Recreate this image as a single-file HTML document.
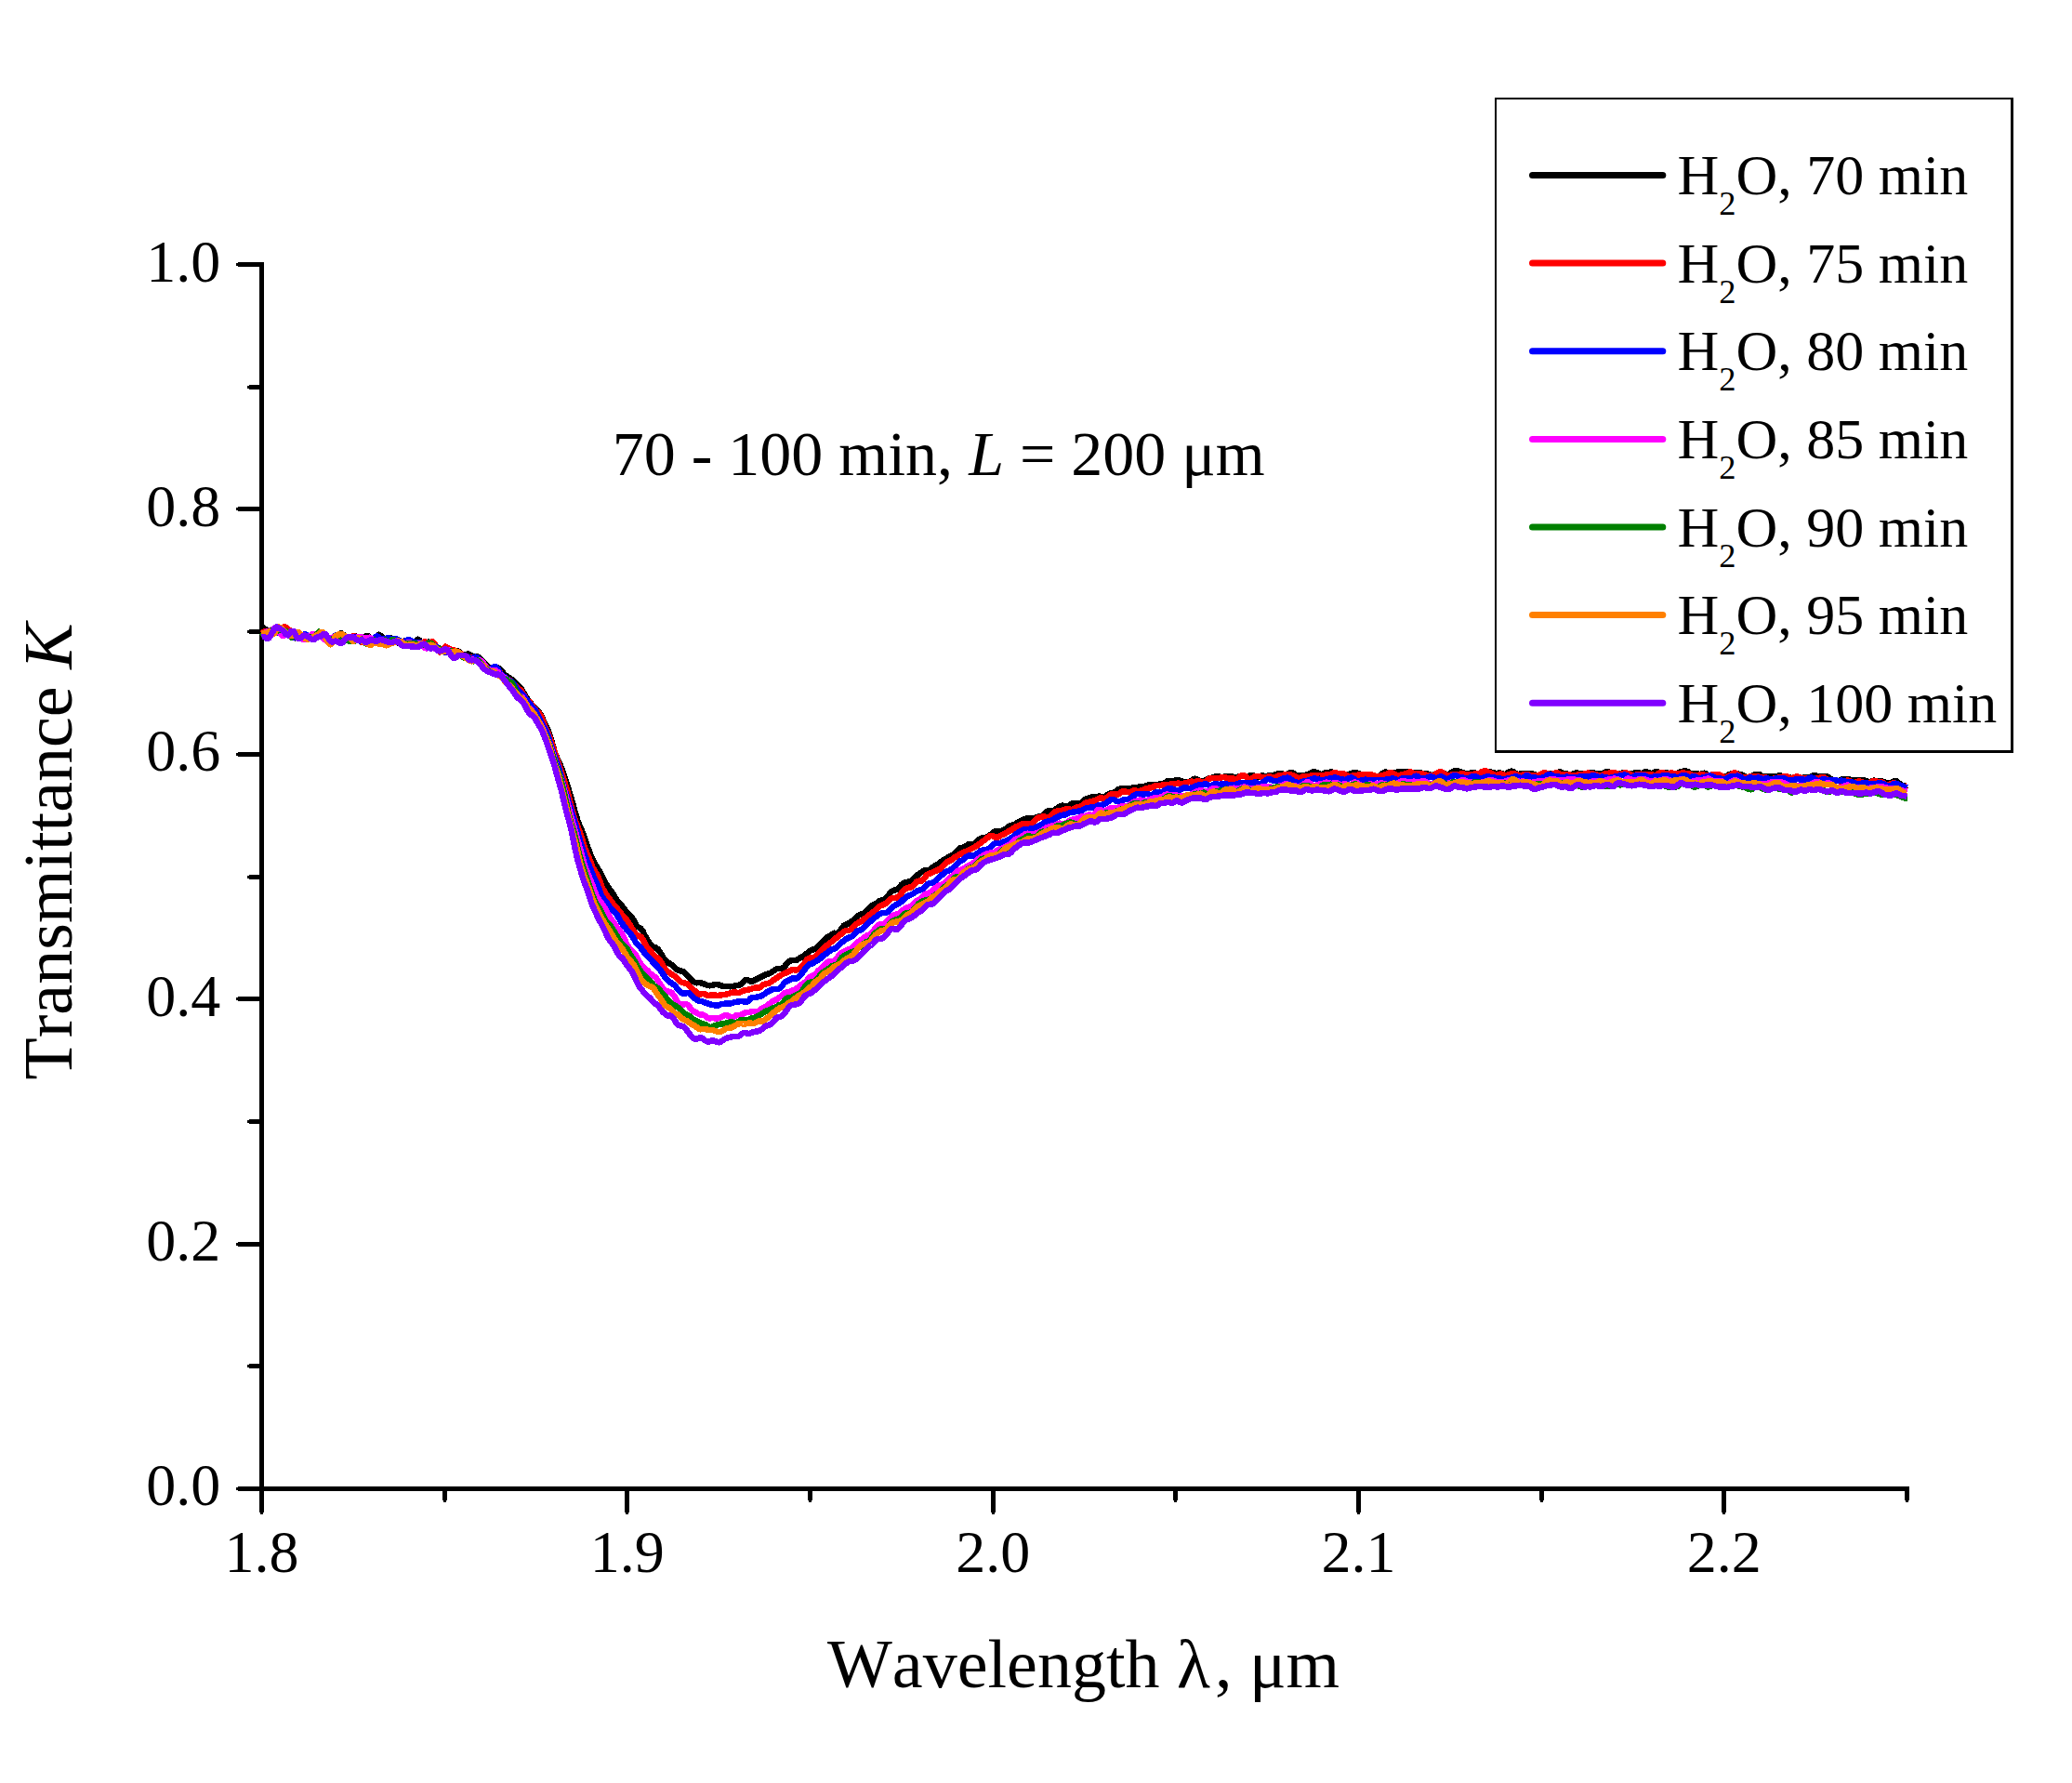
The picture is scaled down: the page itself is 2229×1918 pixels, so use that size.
<!DOCTYPE html>
<html><head><meta charset="utf-8"><title>Transmittance</title>
<style>
html,body{margin:0;padding:0;background:#fff;}
body{width:2229px;height:1918px;overflow:hidden;}
svg{display:block;}
text{font-family:"Liberation Serif",serif;fill:#000;font-kerning:none;font-variant-ligatures:none;}
.tk{font-size:64px;}
.ax{font-size:74px;}
.lg{font-size:62px;}
.an{font-size:68px;}
.i{font-style:italic;}
</style></head><body>
<svg width="2229" height="1918" viewBox="0 0 2229 1918">
<rect width="2229" height="1918" fill="#fff"/>

<path d="M279 282H284V1604H279ZM279 1599H2054V1604H279ZM256 1599H279V1604H256ZM254 1600H256V1603H254ZM268 1467H279V1472H268ZM266 1468H268V1471H266ZM256 1336H279V1341H256ZM254 1337H256V1340H254ZM268 1204H279V1209H268ZM266 1205H268V1208H266ZM256 1072H279V1077H256ZM254 1073H256V1076H254ZM268 941H279V946H268ZM266 942H268V945H266ZM256 809H279V814H256ZM254 810H256V813H254ZM268 677H279V682H268ZM266 678H268V681H266ZM256 545H279V550H256ZM254 546H256V549H254ZM268 414H279V419H268ZM266 415H268V418H266ZM256 282H279V287H256ZM254 283H256V286H254ZM279 1604H284V1627H279ZM280 1627H283V1629H280ZM476 1604H481V1614H476ZM477 1614H480V1616H477ZM672 1604H677V1627H672ZM673 1627H676V1629H673ZM869 1604H874V1614H869ZM870 1614H873V1616H870ZM1066 1604H1071V1627H1066ZM1067 1627H1070V1629H1067ZM1262 1604H1267V1614H1262ZM1263 1614H1266V1616H1263ZM1459 1604H1464V1627H1459ZM1460 1627H1463V1629H1460ZM1656 1604H1661V1614H1656ZM1657 1614H1660V1616H1657ZM1852 1604H1857V1627H1852ZM1853 1627H1856V1629H1853ZM2049 1604H2054V1614H2049ZM2050 1614H2053V1616H2050Z" fill="#000" shape-rendering="crispEdges"/>
<g fill="none" stroke-width="6.5" stroke-linejoin="round" stroke-linecap="butt" shape-rendering="crispEdges">
<path d="M281.5 676.7 L283.5 675.5 L285.5 676.7 L287.5 678.3 L289.5 678.6 L291.5 679.0 L293.5 680.5 L295.5 680.9 L297.5 679.3 L299.5 677.3 L301.5 676.0 L303.5 675.4 L305.5 676.0 L307.5 677.6 L309.5 679.8 L311.5 681.9 L313.5 684.1 L315.5 685.8 L317.5 686.3 L319.5 685.8 L321.5 684.4 L323.5 683.3 L325.5 683.3 L327.5 683.5 L329.5 683.4 L331.5 683.8 L333.5 685.7 L335.5 687.5 L337.5 687.4 L339.5 685.3 L341.5 683.3 L343.5 682.6 L345.5 683.3 L347.5 684.7 L349.5 686.0 L351.5 686.9 L353.5 687.3 L355.5 687.7 L357.5 687.5 L359.5 685.7 L361.5 683.9 L363.5 682.8 L365.5 681.6 L367.5 681.3 L369.5 682.9 L371.5 685.3 L373.5 686.9 L375.5 687.4 L377.5 687.3 L379.5 686.6 L381.5 685.3 L383.5 684.7 L385.5 685.1 L387.5 686.2 L389.5 686.9 L391.5 686.0 L393.5 684.3 L395.5 683.9 L397.5 685.9 L399.5 688.7 L401.5 689.5 L403.5 687.3 L405.5 684.1 L407.5 682.7 L409.5 683.8 L411.5 685.7 L413.5 686.9 L415.5 687.3 L417.5 687.2 L419.5 686.6 L421.5 686.6 L423.5 687.2 L425.5 688.4 L427.5 690.5 L429.5 692.3 L431.5 692.3 L433.5 690.6 L435.5 689.5 L437.5 690.2 L439.5 691.7 L441.5 692.8 L443.5 692.8 L445.5 691.8 L447.5 689.5 L449.5 687.8 L451.5 689.0 L453.5 692.2 L455.5 694.0 L457.5 692.6 L459.5 690.8 L461.5 690.7 L463.5 691.0 L465.5 691.6 L467.5 693.0 L469.5 695.2 L471.5 697.0 L473.5 698.3 L475.5 699.6 L477.5 699.3 L479.5 697.5 L481.5 696.7 L483.5 698.3 L485.5 700.8 L487.5 701.8 L489.5 701.1 L491.5 700.1 L493.5 700.6 L495.5 702.8 L497.5 705.1 L499.5 705.3 L501.5 704.1 L503.5 703.3 L505.5 704.1 L507.5 705.8 L509.5 706.7 L511.5 706.5 L513.5 706.4 L515.5 707.5 L517.5 709.7 L519.5 711.9 L521.5 713.9 L523.5 715.8 L525.5 717.5 L527.5 718.5 L529.5 718.6 L531.5 718.6 L533.5 718.6 L535.5 718.5 L537.5 719.2 L539.5 721.4 L541.5 724.3 L543.5 726.4 L545.5 727.6 L547.5 728.8 L549.5 730.2 L551.5 731.7 L553.5 733.5 L555.5 735.7 L557.5 737.7 L559.5 739.7 L561.5 742.1 L563.5 745.7 L565.5 749.4 L567.5 752.3 L569.5 754.6 L571.5 757.1 L573.5 759.7 L575.5 761.8 L577.5 763.8 L579.5 765.7 L581.5 768.5 L583.5 772.5 L585.5 777.0 L587.5 781.4 L589.5 785.6 L591.5 790.8 L593.5 797.5 L595.5 804.8 L597.5 811.2 L599.5 816.2 L601.5 820.4 L603.5 825.0 L605.5 830.4 L607.5 836.1 L609.5 842.1 L611.5 848.6 L613.5 855.2 L615.5 862.0 L617.5 869.1 L619.5 876.5 L621.5 883.0 L623.5 887.8 L625.5 892.3 L627.5 897.5 L629.5 903.3 L631.5 909.0 L633.5 914.5 L635.5 919.9 L637.5 924.6 L639.5 928.3 L641.5 931.4 L643.5 934.8 L645.5 938.7 L647.5 942.6 L649.5 946.3 L651.5 950.0 L653.5 953.4 L655.5 956.1 L657.5 958.5 L659.5 961.4 L661.5 965.1 L663.5 968.5 L665.5 970.7 L667.5 972.5 L669.5 974.9 L671.5 977.8 L673.5 980.8 L675.5 982.9 L677.5 984.5 L679.5 986.5 L681.5 989.7 L683.5 993.7 L685.5 996.6 L687.5 997.8 L689.5 999.0 L691.5 1001.7 L693.5 1005.8 L695.5 1009.5 L697.5 1012.6 L699.5 1015.3 L701.5 1017.5 L703.5 1018.7 L705.5 1019.4 L707.5 1020.9 L709.5 1023.5 L711.5 1026.8 L713.5 1030.1 L715.5 1032.9 L717.5 1034.9 L719.5 1036.1 L721.5 1037.1 L723.5 1038.7 L725.5 1040.7 L727.5 1042.4 L729.5 1043.6 L731.5 1044.2 L733.5 1044.6 L735.5 1045.6 L737.5 1047.4 L739.5 1049.6 L741.5 1051.6 L743.5 1053.7 L745.5 1055.5 L747.5 1056.8 L749.5 1057.3 L751.5 1057.1 L753.5 1057.3 L755.5 1057.8 L757.5 1058.5 L759.5 1059.4 L761.5 1060.1 L763.5 1060.3 L765.5 1060.1 L767.5 1059.6 L769.5 1059.1 L771.5 1059.0 L773.5 1059.5 L775.5 1060.2 L777.5 1060.7 L779.5 1060.9 L781.5 1060.8 L783.5 1061.1 L785.5 1061.3 L787.5 1061.1 L789.5 1060.7 L791.5 1060.3 L793.5 1060.2 L795.5 1059.7 L797.5 1058.5 L799.5 1056.4 L801.5 1054.3 L803.5 1053.9 L805.5 1054.8 L807.5 1055.7 L809.5 1055.7 L811.5 1054.7 L813.5 1053.5 L815.5 1052.6 L817.5 1051.6 L819.5 1050.5 L821.5 1049.4 L823.5 1048.6 L825.5 1048.0 L827.5 1047.2 L829.5 1046.2 L831.5 1044.8 L833.5 1043.4 L835.5 1042.2 L837.5 1041.8 L839.5 1042.0 L841.5 1041.7 L843.5 1040.2 L845.5 1037.9 L847.5 1035.7 L849.5 1033.9 L851.5 1033.0 L853.5 1033.0 L855.5 1033.2 L857.5 1032.5 L859.5 1031.3 L861.5 1030.1 L863.5 1028.9 L865.5 1027.6 L867.5 1026.0 L869.5 1024.2 L871.5 1022.7 L873.5 1021.8 L875.5 1021.1 L877.5 1020.2 L879.5 1018.7 L881.5 1016.7 L883.5 1014.6 L885.5 1012.4 L887.5 1010.2 L889.5 1008.3 L891.5 1007.5 L893.5 1006.5 L895.5 1004.8 L897.5 1003.7 L899.5 1004.0 L901.5 1004.0 L903.5 1001.8 L905.5 998.5 L907.5 996.0 L909.5 995.0 L911.5 994.2 L913.5 993.0 L915.5 991.7 L917.5 990.5 L919.5 988.7 L921.5 986.4 L923.5 984.8 L925.5 983.9 L927.5 983.2 L929.5 982.2 L931.5 980.9 L933.5 978.7 L935.5 976.2 L937.5 974.3 L939.5 973.4 L941.5 972.7 L943.5 971.3 L945.5 969.6 L947.5 968.7 L949.5 968.5 L951.5 967.9 L953.5 965.9 L955.5 963.3 L957.5 960.9 L959.5 958.9 L961.5 957.8 L963.5 957.3 L965.5 956.6 L967.5 954.6 L969.5 952.1 L971.5 950.3 L973.5 949.5 L975.5 948.9 L977.5 948.4 L979.5 947.9 L981.5 946.8 L983.5 944.9 L985.5 942.8 L987.5 941.0 L989.5 939.6 L991.5 938.1 L993.5 936.8 L995.5 936.3 L997.5 936.4 L999.5 935.9 L1001.5 934.5 L1003.5 932.7 L1005.5 931.6 L1007.5 930.7 L1009.5 929.3 L1011.5 927.6 L1013.5 926.1 L1015.5 925.0 L1017.5 923.8 L1019.5 922.4 L1021.5 921.2 L1023.5 920.3 L1025.5 919.4 L1027.5 917.8 L1029.5 915.4 L1031.5 913.1 L1033.5 912.0 L1035.5 911.8 L1037.5 911.3 L1039.5 909.9 L1041.5 908.5 L1043.5 908.2 L1045.5 908.6 L1047.5 908.3 L1049.5 907.1 L1051.5 905.0 L1053.5 902.9 L1055.5 901.6 L1057.5 901.1 L1059.5 901.0 L1061.5 900.5 L1063.5 899.4 L1065.5 898.0 L1067.5 896.2 L1069.5 894.8 L1071.5 894.2 L1073.5 894.3 L1075.5 894.4 L1077.5 893.9 L1079.5 893.0 L1081.5 891.9 L1083.5 890.3 L1085.5 888.7 L1087.5 887.8 L1089.5 887.5 L1091.5 886.9 L1093.5 885.6 L1095.5 884.2 L1097.5 883.2 L1099.5 882.3 L1101.5 881.3 L1103.5 880.6 L1105.5 880.4 L1107.5 880.4 L1109.5 880.4 L1111.5 880.3 L1113.5 879.7 L1115.5 879.0 L1117.5 878.6 L1119.5 878.3 L1121.5 877.6 L1123.5 875.9 L1125.5 873.7 L1127.5 872.3 L1129.5 872.4 L1131.5 872.8 L1133.5 872.0 L1135.5 870.5 L1137.5 869.1 L1139.5 867.8 L1141.5 866.8 L1143.5 866.7 L1145.5 867.4 L1147.5 867.6 L1149.5 867.1 L1151.5 865.7 L1153.5 864.5 L1155.5 864.0 L1157.5 864.1 L1159.5 864.4 L1161.5 864.2 L1163.5 863.2 L1165.5 861.3 L1167.5 859.7 L1169.5 858.9 L1171.5 858.4 L1173.5 857.6 L1175.5 857.5 L1177.5 857.7 L1179.5 857.3 L1181.5 856.7 L1183.5 856.7 L1185.5 857.1 L1187.5 857.5 L1189.5 856.7 L1191.5 855.0 L1193.5 853.6 L1195.5 853.2 L1197.5 852.9 L1199.5 851.9 L1201.5 850.3 L1203.5 849.1 L1205.5 848.6 L1207.5 848.5 L1209.5 848.2 L1211.5 848.1 L1213.5 848.3 L1215.5 848.2 L1217.5 847.7 L1219.5 847.4 L1221.5 847.2 L1223.5 846.9 L1225.5 846.4 L1227.5 846.0 L1229.5 846.0 L1231.5 845.8 L1233.5 845.2 L1235.5 844.4 L1237.5 843.9 L1239.5 843.9 L1241.5 844.3 L1243.5 844.5 L1245.5 844.1 L1247.5 843.6 L1249.5 843.1 L1251.5 842.8 L1253.5 841.8 L1255.5 840.6 L1257.5 840.4 L1259.5 840.8 L1261.5 840.6 L1263.5 839.7 L1265.5 838.9 L1267.5 839.0 L1269.5 839.6 L1271.5 840.5 L1273.5 841.1 L1275.5 841.1 L1277.5 841.0 L1279.5 840.7 L1281.5 839.8 L1283.5 838.5 L1285.5 837.7 L1287.5 838.2 L1289.5 839.3 L1291.5 839.9 L1293.5 840.0 L1295.5 839.8 L1297.5 839.1 L1299.5 838.1 L1301.5 837.1 L1303.5 836.8 L1305.5 836.4 L1307.5 835.4 L1309.5 835.0 L1311.5 835.4 L1313.5 836.2 L1315.5 836.1 L1317.5 835.6 L1319.5 835.3 L1321.5 835.1 L1323.5 835.0 L1325.5 835.5 L1327.5 836.2 L1329.5 836.3 L1331.5 835.7 L1333.5 835.0 L1335.5 834.8 L1337.5 834.9 L1339.5 835.0 L1341.5 835.0 L1343.5 834.7 L1345.5 834.3 L1347.5 834.2 L1349.5 834.7 L1351.5 835.4 L1353.5 835.6 L1355.5 835.1 L1357.5 834.6 L1359.5 834.7 L1361.5 835.1 L1363.5 834.9 L1365.5 834.2 L1367.5 834.0 L1369.5 834.0 L1371.5 833.6 L1373.5 832.7 L1375.5 832.1 L1377.5 832.0 L1379.5 832.5 L1381.5 833.4 L1383.5 833.6 L1385.5 832.7 L1387.5 831.2 L1389.5 830.9 L1391.5 831.9 L1393.5 833.3 L1395.5 834.3 L1397.5 834.5 L1399.5 834.3 L1401.5 834.1 L1403.5 834.0 L1405.5 833.6 L1407.5 832.8 L1409.5 831.7 L1411.5 830.8 L1413.5 830.4 L1415.5 830.6 L1417.5 831.5 L1419.5 832.5 L1421.5 833.0 L1423.5 832.5 L1425.5 831.5 L1427.5 830.9 L1429.5 830.8 L1431.5 830.7 L1433.5 830.7 L1435.5 831.1 L1437.5 831.7 L1439.5 832.4 L1441.5 833.2 L1443.5 833.9 L1445.5 834.0 L1447.5 833.7 L1449.5 833.3 L1451.5 832.7 L1453.5 832.1 L1455.5 831.5 L1457.5 831.2 L1459.5 831.3 L1461.5 832.0 L1463.5 832.9 L1465.5 833.7 L1467.5 834.2 L1469.5 834.1 L1471.5 833.8 L1473.5 833.4 L1475.5 833.5 L1477.5 834.4 L1479.5 835.6 L1481.5 835.8 L1483.5 834.8 L1485.5 833.4 L1487.5 831.8 L1489.5 830.7 L1491.5 830.7 L1493.5 831.4 L1495.5 831.7 L1497.5 831.3 L1499.5 830.9 L1501.5 830.9 L1503.5 830.6 L1505.5 830.2 L1507.5 830.1 L1509.5 830.0 L1511.5 829.9 L1513.5 829.8 L1515.5 830.1 L1517.5 830.8 L1519.5 831.4 L1521.5 831.6 L1523.5 831.3 L1525.5 831.0 L1527.5 831.3 L1529.5 831.8 L1531.5 832.0 L1533.5 832.1 L1535.5 832.5 L1537.5 833.2 L1539.5 833.9 L1541.5 833.9 L1543.5 833.2 L1545.5 832.0 L1547.5 830.9 L1549.5 830.2 L1551.5 830.6 L1553.5 832.0 L1555.5 833.3 L1557.5 833.4 L1559.5 832.3 L1561.5 830.8 L1563.5 829.8 L1565.5 829.3 L1567.5 829.4 L1569.5 829.7 L1571.5 830.3 L1573.5 831.1 L1575.5 831.8 L1577.5 832.2 L1579.5 832.0 L1581.5 831.7 L1583.5 831.3 L1585.5 831.1 L1587.5 831.8 L1589.5 832.7 L1591.5 832.8 L1593.5 832.1 L1595.5 831.2 L1597.5 830.7 L1599.5 830.3 L1601.5 830.2 L1603.5 830.6 L1605.5 831.0 L1607.5 831.5 L1609.5 831.9 L1611.5 831.7 L1613.5 831.4 L1615.5 831.9 L1617.5 833.0 L1619.5 832.9 L1621.5 831.6 L1623.5 830.4 L1625.5 829.6 L1627.5 829.9 L1629.5 831.2 L1631.5 832.6 L1633.5 832.9 L1635.5 832.5 L1637.5 832.4 L1639.5 832.6 L1641.5 832.7 L1643.5 832.6 L1645.5 832.3 L1647.5 832.3 L1649.5 832.7 L1651.5 833.5 L1653.5 834.1 L1655.5 833.8 L1657.5 833.4 L1659.5 833.3 L1661.5 833.3 L1663.5 832.9 L1665.5 832.5 L1667.5 832.4 L1669.5 832.2 L1671.5 832.1 L1673.5 831.9 L1675.5 831.0 L1677.5 830.4 L1679.5 830.8 L1681.5 831.8 L1683.5 832.4 L1685.5 832.6 L1687.5 833.0 L1689.5 833.2 L1691.5 832.7 L1693.5 832.0 L1695.5 831.6 L1697.5 831.7 L1699.5 832.2 L1701.5 832.5 L1703.5 832.4 L1705.5 832.1 L1707.5 831.7 L1709.5 831.1 L1711.5 830.8 L1713.5 831.2 L1715.5 831.9 L1717.5 832.0 L1719.5 832.2 L1721.5 832.6 L1723.5 832.5 L1725.5 831.4 L1727.5 830.1 L1729.5 829.8 L1731.5 830.7 L1733.5 831.6 L1735.5 831.9 L1737.5 831.8 L1739.5 832.0 L1741.5 832.1 L1743.5 831.9 L1745.5 831.6 L1747.5 831.5 L1749.5 831.8 L1751.5 831.9 L1753.5 832.2 L1755.5 832.3 L1757.5 831.8 L1759.5 831.2 L1761.5 831.0 L1763.5 831.4 L1765.5 831.9 L1767.5 831.5 L1769.5 830.5 L1771.5 830.3 L1773.5 831.1 L1775.5 832.1 L1777.5 832.0 L1779.5 830.9 L1781.5 830.2 L1783.5 830.4 L1785.5 831.2 L1787.5 831.9 L1789.5 831.9 L1791.5 831.6 L1793.5 831.5 L1795.5 831.9 L1797.5 832.6 L1799.5 833.4 L1801.5 833.4 L1803.5 832.5 L1805.5 831.3 L1807.5 830.6 L1809.5 830.1 L1811.5 829.6 L1813.5 829.4 L1815.5 830.0 L1817.5 831.2 L1819.5 832.3 L1821.5 832.6 L1823.5 832.4 L1825.5 832.4 L1827.5 832.8 L1829.5 832.9 L1831.5 832.1 L1833.5 831.7 L1835.5 832.6 L1837.5 833.9 L1839.5 834.1 L1841.5 833.7 L1843.5 833.5 L1845.5 834.1 L1847.5 834.8 L1849.5 835.2 L1851.5 835.4 L1853.5 835.6 L1855.5 835.6 L1857.5 834.8 L1859.5 833.6 L1861.5 832.7 L1863.5 832.3 L1865.5 832.3 L1867.5 832.3 L1869.5 832.5 L1871.5 832.8 L1873.5 833.4 L1875.5 834.2 L1877.5 835.3 L1879.5 836.4 L1881.5 836.4 L1883.5 835.5 L1885.5 834.3 L1887.5 833.4 L1889.5 832.9 L1891.5 832.8 L1893.5 833.6 L1895.5 834.7 L1897.5 835.1 L1899.5 835.1 L1901.5 834.9 L1903.5 835.0 L1905.5 835.1 L1907.5 835.0 L1909.5 835.1 L1911.5 834.9 L1913.5 834.6 L1915.5 834.7 L1917.5 834.8 L1919.5 835.1 L1921.5 835.4 L1923.5 835.9 L1925.5 836.6 L1927.5 836.8 L1929.5 836.6 L1931.5 836.6 L1933.5 837.0 L1935.5 837.4 L1937.5 837.2 L1939.5 836.7 L1941.5 836.5 L1943.5 836.5 L1945.5 836.4 L1947.5 835.9 L1949.5 834.7 L1951.5 833.9 L1953.5 834.4 L1955.5 835.2 L1957.5 835.4 L1959.5 835.3 L1961.5 835.3 L1963.5 835.3 L1965.5 835.4 L1967.5 836.4 L1969.5 838.0 L1971.5 838.9 L1973.5 839.1 L1975.5 839.6 L1977.5 840.0 L1979.5 839.4 L1981.5 838.3 L1983.5 837.8 L1985.5 837.9 L1987.5 838.1 L1989.5 838.4 L1991.5 839.0 L1993.5 839.4 L1995.5 839.4 L1997.5 839.3 L1999.5 839.5 L2001.5 839.7 L2003.5 839.6 L2005.5 839.5 L2007.5 840.1 L2009.5 841.1 L2011.5 841.4 L2013.5 840.5 L2015.5 839.6 L2017.5 839.8 L2019.5 840.4 L2021.5 840.5 L2023.5 840.3 L2025.5 840.7 L2027.5 841.4 L2029.5 841.9 L2031.5 842.2 L2033.5 842.2 L2035.5 841.5 L2037.5 840.4 L2039.5 840.0 L2041.5 841.2 L2043.5 843.0 L2045.5 844.3 L2047.5 845.1 L2049.5 845.2 L2051.5 844.5" stroke="#000000"/>
<path d="M281.5 681.6 L283.5 680.0 L285.5 679.1 L287.5 678.9 L289.5 678.8 L291.5 679.2 L293.5 678.8 L295.5 676.9 L297.5 675.8 L299.5 676.3 L301.5 676.4 L303.5 675.2 L305.5 674.2 L307.5 675.0 L309.5 676.5 L311.5 677.9 L313.5 679.2 L315.5 680.6 L317.5 681.4 L319.5 681.8 L321.5 682.5 L323.5 683.9 L325.5 685.1 L327.5 685.3 L329.5 684.7 L331.5 684.6 L333.5 685.1 L335.5 685.0 L337.5 683.9 L339.5 682.5 L341.5 682.1 L343.5 682.8 L345.5 683.1 L347.5 683.8 L349.5 685.7 L351.5 688.0 L353.5 689.6 L355.5 690.2 L357.5 689.8 L359.5 688.4 L361.5 687.0 L363.5 686.5 L365.5 685.8 L367.5 684.8 L369.5 684.1 L371.5 684.3 L373.5 685.5 L375.5 686.2 L377.5 685.5 L379.5 684.4 L381.5 684.5 L383.5 685.9 L385.5 687.8 L387.5 689.8 L389.5 691.2 L391.5 691.1 L393.5 690.3 L395.5 690.3 L397.5 690.4 L399.5 689.2 L401.5 687.8 L403.5 688.3 L405.5 689.5 L407.5 689.5 L409.5 688.9 L411.5 688.9 L413.5 689.3 L415.5 689.3 L417.5 689.5 L419.5 690.1 L421.5 690.4 L423.5 690.2 L425.5 689.6 L427.5 689.4 L429.5 689.8 L431.5 690.2 L433.5 690.7 L435.5 691.2 L437.5 690.9 L439.5 690.1 L441.5 690.4 L443.5 692.4 L445.5 694.7 L447.5 695.7 L449.5 695.3 L451.5 694.3 L453.5 692.6 L455.5 690.8 L457.5 690.4 L459.5 690.9 L461.5 691.2 L463.5 690.6 L465.5 690.2 L467.5 692.1 L469.5 695.8 L471.5 699.6 L473.5 701.4 L475.5 700.1 L477.5 697.1 L479.5 695.6 L481.5 696.7 L483.5 698.2 L485.5 698.7 L487.5 699.0 L489.5 699.9 L491.5 700.7 L493.5 701.6 L495.5 702.9 L497.5 704.2 L499.5 705.7 L501.5 707.2 L503.5 707.6 L505.5 707.0 L507.5 707.0 L509.5 708.3 L511.5 709.8 L513.5 710.3 L515.5 710.7 L517.5 711.9 L519.5 713.5 L521.5 715.4 L523.5 717.4 L525.5 719.4 L527.5 721.2 L529.5 722.0 L531.5 721.9 L533.5 721.2 L535.5 720.8 L537.5 722.5 L539.5 725.7 L541.5 728.8 L543.5 730.3 L545.5 730.6 L547.5 731.3 L549.5 732.8 L551.5 734.8 L553.5 736.9 L555.5 738.7 L557.5 740.3 L559.5 741.9 L561.5 744.1 L563.5 747.6 L565.5 751.1 L567.5 753.4 L569.5 755.0 L571.5 757.2 L573.5 760.2 L575.5 763.0 L577.5 765.2 L579.5 766.8 L581.5 769.3 L583.5 773.9 L585.5 779.4 L587.5 784.2 L589.5 788.6 L591.5 793.7 L593.5 799.6 L595.5 805.6 L597.5 811.4 L599.5 817.2 L601.5 823.3 L603.5 829.3 L605.5 835.4 L607.5 841.5 L609.5 848.1 L611.5 855.4 L613.5 863.2 L615.5 871.0 L617.5 877.8 L619.5 883.8 L621.5 889.2 L623.5 894.6 L625.5 900.4 L627.5 906.8 L629.5 913.0 L631.5 918.0 L633.5 922.4 L635.5 927.7 L637.5 932.8 L639.5 936.5 L641.5 939.4 L643.5 943.4 L645.5 948.7 L647.5 953.8 L649.5 957.8 L651.5 960.9 L653.5 963.9 L655.5 966.8 L657.5 969.5 L659.5 972.0 L661.5 974.3 L663.5 976.7 L665.5 979.2 L667.5 981.8 L669.5 984.2 L671.5 986.4 L673.5 988.8 L675.5 991.6 L677.5 994.8 L679.5 998.0 L681.5 1001.4 L683.5 1004.3 L685.5 1006.1 L687.5 1006.9 L689.5 1007.8 L691.5 1010.5 L693.5 1014.4 L695.5 1018.1 L697.5 1020.7 L699.5 1022.6 L701.5 1025.0 L703.5 1027.5 L705.5 1029.3 L707.5 1030.5 L709.5 1032.6 L711.5 1035.7 L713.5 1039.0 L715.5 1042.0 L717.5 1044.3 L719.5 1046.0 L721.5 1047.4 L723.5 1048.6 L725.5 1049.8 L727.5 1051.6 L729.5 1053.9 L731.5 1055.8 L733.5 1056.7 L735.5 1057.3 L737.5 1057.8 L739.5 1058.6 L741.5 1060.3 L743.5 1062.4 L745.5 1064.3 L747.5 1066.0 L749.5 1067.8 L751.5 1069.4 L753.5 1069.7 L755.5 1069.1 L757.5 1068.9 L759.5 1070.0 L761.5 1070.9 L763.5 1070.7 L765.5 1070.4 L767.5 1070.3 L769.5 1070.6 L771.5 1070.8 L773.5 1070.8 L775.5 1070.4 L777.5 1070.0 L779.5 1069.8 L781.5 1069.6 L783.5 1069.0 L785.5 1068.3 L787.5 1067.6 L789.5 1067.2 L791.5 1067.5 L793.5 1068.0 L795.5 1067.9 L797.5 1066.8 L799.5 1065.7 L801.5 1065.2 L803.5 1064.9 L805.5 1064.5 L807.5 1064.1 L809.5 1063.4 L811.5 1062.7 L813.5 1062.5 L815.5 1062.7 L817.5 1062.2 L819.5 1060.5 L821.5 1058.9 L823.5 1058.4 L825.5 1058.2 L827.5 1057.6 L829.5 1056.2 L831.5 1054.7 L833.5 1053.4 L835.5 1052.0 L837.5 1050.6 L839.5 1049.3 L841.5 1048.2 L843.5 1047.2 L845.5 1046.5 L847.5 1045.7 L849.5 1044.4 L851.5 1043.4 L853.5 1043.2 L855.5 1043.5 L857.5 1043.3 L859.5 1042.5 L861.5 1041.0 L863.5 1038.8 L865.5 1035.9 L867.5 1033.1 L869.5 1031.1 L871.5 1030.4 L873.5 1030.5 L875.5 1030.0 L877.5 1028.7 L879.5 1026.7 L881.5 1024.4 L883.5 1022.2 L885.5 1020.1 L887.5 1018.5 L889.5 1017.0 L891.5 1015.5 L893.5 1013.9 L895.5 1012.3 L897.5 1010.8 L899.5 1009.0 L901.5 1007.3 L903.5 1005.8 L905.5 1004.3 L907.5 1002.5 L909.5 1001.1 L911.5 1000.8 L913.5 1000.8 L915.5 999.7 L917.5 997.4 L919.5 995.1 L921.5 993.8 L923.5 992.7 L925.5 991.5 L927.5 990.4 L929.5 989.0 L931.5 987.1 L933.5 985.4 L935.5 983.9 L937.5 982.6 L939.5 981.1 L941.5 979.3 L943.5 977.4 L945.5 975.5 L947.5 974.3 L949.5 973.6 L951.5 972.7 L953.5 971.2 L955.5 969.1 L957.5 967.4 L959.5 966.3 L961.5 965.9 L963.5 965.7 L965.5 965.3 L967.5 963.8 L969.5 961.2 L971.5 958.6 L973.5 956.7 L975.5 955.2 L977.5 954.7 L979.5 954.6 L981.5 953.7 L983.5 951.6 L985.5 949.0 L987.5 947.8 L989.5 947.7 L991.5 947.5 L993.5 946.0 L995.5 943.1 L997.5 940.7 L999.5 939.7 L1001.5 939.2 L1003.5 938.4 L1005.5 937.3 L1007.5 936.4 L1009.5 935.7 L1011.5 934.3 L1013.5 932.4 L1015.5 930.2 L1017.5 928.2 L1019.5 927.0 L1021.5 926.0 L1023.5 925.0 L1025.5 923.5 L1027.5 922.0 L1029.5 920.8 L1031.5 919.6 L1033.5 918.4 L1035.5 917.2 L1037.5 916.3 L1039.5 915.8 L1041.5 914.9 L1043.5 913.7 L1045.5 912.7 L1047.5 911.9 L1049.5 910.8 L1051.5 909.2 L1053.5 907.8 L1055.5 906.5 L1057.5 904.9 L1059.5 903.3 L1061.5 901.8 L1063.5 900.2 L1065.5 899.0 L1067.5 899.1 L1069.5 900.2 L1071.5 900.9 L1073.5 900.5 L1075.5 899.4 L1077.5 898.3 L1079.5 897.4 L1081.5 896.4 L1083.5 895.2 L1085.5 894.0 L1087.5 893.0 L1089.5 891.7 L1091.5 890.2 L1093.5 889.1 L1095.5 888.2 L1097.5 887.3 L1099.5 886.4 L1101.5 886.0 L1103.5 885.9 L1105.5 885.9 L1107.5 886.1 L1109.5 885.9 L1111.5 884.6 L1113.5 882.4 L1115.5 880.5 L1117.5 879.5 L1119.5 879.0 L1121.5 878.4 L1123.5 878.3 L1125.5 879.0 L1127.5 879.5 L1129.5 878.7 L1131.5 876.8 L1133.5 874.6 L1135.5 873.0 L1137.5 872.4 L1139.5 872.2 L1141.5 871.9 L1143.5 871.4 L1145.5 870.7 L1147.5 870.2 L1149.5 870.2 L1151.5 870.7 L1153.5 870.9 L1155.5 870.2 L1157.5 868.9 L1159.5 868.1 L1161.5 867.7 L1163.5 867.0 L1165.5 865.6 L1167.5 863.9 L1169.5 862.9 L1171.5 862.7 L1173.5 862.5 L1175.5 862.0 L1177.5 861.2 L1179.5 860.3 L1181.5 859.3 L1183.5 858.4 L1185.5 858.3 L1187.5 859.0 L1189.5 858.8 L1191.5 857.2 L1193.5 855.5 L1195.5 854.4 L1197.5 854.1 L1199.5 854.5 L1201.5 854.9 L1203.5 854.2 L1205.5 852.7 L1207.5 851.5 L1209.5 851.3 L1211.5 851.6 L1213.5 852.2 L1215.5 852.4 L1217.5 851.5 L1219.5 850.4 L1221.5 850.5 L1223.5 851.5 L1225.5 851.6 L1227.5 850.6 L1229.5 849.7 L1231.5 848.8 L1233.5 848.0 L1235.5 847.7 L1237.5 847.7 L1239.5 847.1 L1241.5 845.8 L1243.5 845.1 L1245.5 845.2 L1247.5 845.3 L1249.5 844.9 L1251.5 844.3 L1253.5 844.3 L1255.5 844.5 L1257.5 844.1 L1259.5 843.6 L1261.5 843.6 L1263.5 843.6 L1265.5 843.1 L1267.5 842.6 L1269.5 842.9 L1271.5 843.2 L1273.5 842.8 L1275.5 842.2 L1277.5 841.6 L1279.5 841.0 L1281.5 840.7 L1283.5 840.8 L1285.5 840.8 L1287.5 840.5 L1289.5 840.4 L1291.5 840.8 L1293.5 841.3 L1295.5 841.4 L1297.5 840.3 L1299.5 838.7 L1301.5 837.4 L1303.5 837.0 L1305.5 837.2 L1307.5 837.4 L1309.5 837.3 L1311.5 836.9 L1313.5 836.4 L1315.5 836.2 L1317.5 836.2 L1319.5 836.8 L1321.5 837.4 L1323.5 837.4 L1325.5 837.3 L1327.5 837.8 L1329.5 838.5 L1331.5 837.9 L1333.5 835.9 L1335.5 834.1 L1337.5 833.8 L1339.5 835.0 L1341.5 836.7 L1343.5 837.8 L1345.5 837.9 L1347.5 836.9 L1349.5 835.6 L1351.5 834.8 L1353.5 834.8 L1355.5 835.3 L1357.5 835.9 L1359.5 836.3 L1361.5 836.3 L1363.5 835.7 L1365.5 835.3 L1367.5 835.7 L1369.5 836.5 L1371.5 836.5 L1373.5 835.5 L1375.5 834.4 L1377.5 833.9 L1379.5 833.8 L1381.5 833.5 L1383.5 833.0 L1385.5 832.8 L1387.5 833.1 L1389.5 833.6 L1391.5 834.2 L1393.5 835.1 L1395.5 836.5 L1397.5 837.3 L1399.5 836.6 L1401.5 835.3 L1403.5 834.9 L1405.5 835.3 L1407.5 835.3 L1409.5 834.7 L1411.5 834.3 L1413.5 834.4 L1415.5 834.6 L1417.5 834.6 L1419.5 834.7 L1421.5 834.7 L1423.5 834.4 L1425.5 833.7 L1427.5 833.3 L1429.5 833.2 L1431.5 832.7 L1433.5 831.9 L1435.5 831.3 L1437.5 831.3 L1439.5 831.9 L1441.5 832.5 L1443.5 832.4 L1445.5 832.3 L1447.5 833.1 L1449.5 834.4 L1451.5 835.0 L1453.5 834.8 L1455.5 834.7 L1457.5 834.7 L1459.5 834.4 L1461.5 833.6 L1463.5 833.1 L1465.5 833.5 L1467.5 833.7 L1469.5 833.2 L1471.5 832.9 L1473.5 833.1 L1475.5 833.6 L1477.5 834.1 L1479.5 834.7 L1481.5 835.4 L1483.5 835.2 L1485.5 834.5 L1487.5 833.8 L1489.5 833.5 L1491.5 833.0 L1493.5 832.0 L1495.5 831.2 L1497.5 831.5 L1499.5 832.5 L1501.5 833.6 L1503.5 834.1 L1505.5 834.1 L1507.5 833.6 L1509.5 832.9 L1511.5 832.4 L1513.5 831.7 L1515.5 830.8 L1517.5 830.4 L1519.5 831.1 L1521.5 832.3 L1523.5 832.6 L1525.5 832.1 L1527.5 831.8 L1529.5 832.2 L1531.5 832.8 L1533.5 833.3 L1535.5 833.9 L1537.5 834.4 L1539.5 834.6 L1541.5 834.2 L1543.5 833.2 L1545.5 832.0 L1547.5 830.8 L1549.5 830.3 L1551.5 830.7 L1553.5 832.1 L1555.5 833.6 L1557.5 834.3 L1559.5 833.9 L1561.5 833.4 L1563.5 833.4 L1565.5 833.6 L1567.5 833.6 L1569.5 833.1 L1571.5 832.4 L1573.5 832.2 L1575.5 832.9 L1577.5 833.4 L1579.5 833.3 L1581.5 833.2 L1583.5 832.9 L1585.5 832.7 L1587.5 832.5 L1589.5 832.3 L1591.5 831.7 L1593.5 830.6 L1595.5 829.8 L1597.5 829.4 L1599.5 829.8 L1601.5 830.7 L1603.5 831.6 L1605.5 832.6 L1607.5 833.5 L1609.5 834.0 L1611.5 833.5 L1613.5 832.7 L1615.5 832.6 L1617.5 833.4 L1619.5 834.0 L1621.5 833.8 L1623.5 833.1 L1625.5 832.4 L1627.5 832.2 L1629.5 832.5 L1631.5 833.1 L1633.5 834.1 L1635.5 834.5 L1637.5 833.9 L1639.5 833.0 L1641.5 832.8 L1643.5 833.3 L1645.5 833.7 L1647.5 834.1 L1649.5 834.4 L1651.5 834.5 L1653.5 834.4 L1655.5 834.0 L1657.5 832.9 L1659.5 831.7 L1661.5 831.0 L1663.5 831.6 L1665.5 832.6 L1667.5 833.1 L1669.5 832.7 L1671.5 831.9 L1673.5 831.4 L1675.5 831.5 L1677.5 832.2 L1679.5 833.1 L1681.5 833.6 L1683.5 833.6 L1685.5 833.4 L1687.5 833.4 L1689.5 833.6 L1691.5 834.2 L1693.5 834.6 L1695.5 834.1 L1697.5 833.4 L1699.5 833.1 L1701.5 833.2 L1703.5 833.0 L1705.5 832.2 L1707.5 831.6 L1709.5 831.7 L1711.5 832.1 L1713.5 832.6 L1715.5 833.0 L1717.5 833.5 L1719.5 834.4 L1721.5 834.7 L1723.5 834.1 L1725.5 833.0 L1727.5 832.2 L1729.5 831.9 L1731.5 831.6 L1733.5 831.2 L1735.5 831.0 L1737.5 831.4 L1739.5 832.2 L1741.5 832.8 L1743.5 832.9 L1745.5 832.3 L1747.5 831.5 L1749.5 831.3 L1751.5 831.9 L1753.5 833.0 L1755.5 833.8 L1757.5 834.0 L1759.5 833.8 L1761.5 833.3 L1763.5 832.9 L1765.5 832.7 L1767.5 833.0 L1769.5 833.5 L1771.5 833.6 L1773.5 833.3 L1775.5 832.9 L1777.5 833.3 L1779.5 834.2 L1781.5 833.9 L1783.5 832.6 L1785.5 831.3 L1787.5 831.0 L1789.5 831.6 L1791.5 831.9 L1793.5 832.0 L1795.5 831.8 L1797.5 831.5 L1799.5 831.7 L1801.5 832.1 L1803.5 832.6 L1805.5 832.7 L1807.5 832.1 L1809.5 831.4 L1811.5 831.4 L1813.5 831.9 L1815.5 832.0 L1817.5 832.4 L1819.5 833.3 L1821.5 834.3 L1823.5 834.6 L1825.5 834.2 L1827.5 833.6 L1829.5 833.5 L1831.5 833.5 L1833.5 833.7 L1835.5 834.0 L1837.5 834.2 L1839.5 833.9 L1841.5 833.5 L1843.5 833.3 L1845.5 833.4 L1847.5 833.2 L1849.5 833.3 L1851.5 834.3 L1853.5 835.6 L1855.5 836.2 L1857.5 835.8 L1859.5 834.9 L1861.5 833.9 L1863.5 832.6 L1865.5 831.5 L1867.5 831.7 L1869.5 833.1 L1871.5 834.7 L1873.5 835.7 L1875.5 836.3 L1877.5 836.5 L1879.5 836.4 L1881.5 835.7 L1883.5 835.3 L1885.5 835.5 L1887.5 835.4 L1889.5 835.1 L1891.5 835.4 L1893.5 836.3 L1895.5 836.7 L1897.5 836.4 L1899.5 836.4 L1901.5 837.4 L1903.5 838.6 L1905.5 838.7 L1907.5 837.8 L1909.5 837.0 L1911.5 836.8 L1913.5 836.7 L1915.5 836.5 L1917.5 836.0 L1919.5 835.2 L1921.5 834.8 L1923.5 835.7 L1925.5 837.1 L1927.5 837.3 L1929.5 836.5 L1931.5 835.7 L1933.5 835.4 L1935.5 836.0 L1937.5 836.9 L1939.5 837.3 L1941.5 837.3 L1943.5 837.4 L1945.5 838.2 L1947.5 838.4 L1949.5 837.9 L1951.5 837.5 L1953.5 837.4 L1955.5 837.3 L1957.5 836.7 L1959.5 836.0 L1961.5 836.1 L1963.5 837.1 L1965.5 838.5 L1967.5 839.2 L1969.5 839.0 L1971.5 838.9 L1973.5 839.3 L1975.5 839.8 L1977.5 840.0 L1979.5 840.4 L1981.5 841.0 L1983.5 840.9 L1985.5 840.1 L1987.5 839.5 L1989.5 839.9 L1991.5 840.9 L1993.5 841.8 L1995.5 841.8 L1997.5 840.9 L1999.5 840.4 L2001.5 840.8 L2003.5 841.4 L2005.5 842.0 L2007.5 842.6 L2009.5 842.9 L2011.5 842.3 L2013.5 840.9 L2015.5 840.2 L2017.5 840.4 L2019.5 840.8 L2021.5 840.8 L2023.5 841.0 L2025.5 842.0 L2027.5 843.3 L2029.5 844.2 L2031.5 844.1 L2033.5 843.3 L2035.5 842.7 L2037.5 842.5 L2039.5 842.8 L2041.5 844.1 L2043.5 846.0 L2045.5 847.4 L2047.5 847.2 L2049.5 845.9 L2051.5 845.4" stroke="#ff0000"/>
<path d="M281.5 681.3 L283.5 681.9 L285.5 682.8 L287.5 683.2 L289.5 682.5 L291.5 681.1 L293.5 680.5 L295.5 680.9 L297.5 680.8 L299.5 679.9 L301.5 679.2 L303.5 679.7 L305.5 680.8 L307.5 681.0 L309.5 680.7 L311.5 681.0 L313.5 683.2 L315.5 685.5 L317.5 686.2 L319.5 686.1 L321.5 685.9 L323.5 685.2 L325.5 683.7 L327.5 682.4 L329.5 682.7 L331.5 683.7 L333.5 684.7 L335.5 685.7 L337.5 685.4 L339.5 684.1 L341.5 683.1 L343.5 683.6 L345.5 684.6 L347.5 685.3 L349.5 686.5 L351.5 687.9 L353.5 688.4 L355.5 687.9 L357.5 686.8 L359.5 684.8 L361.5 683.1 L363.5 682.8 L365.5 683.9 L367.5 685.3 L369.5 685.6 L371.5 685.1 L373.5 684.8 L375.5 685.0 L377.5 685.3 L379.5 685.5 L381.5 685.4 L383.5 686.6 L385.5 688.6 L387.5 689.8 L389.5 688.8 L391.5 686.8 L393.5 685.8 L395.5 685.9 L397.5 687.1 L399.5 687.8 L401.5 687.2 L403.5 685.6 L405.5 684.5 L407.5 685.3 L409.5 687.1 L411.5 688.2 L413.5 687.5 L415.5 686.7 L417.5 686.6 L419.5 686.7 L421.5 687.0 L423.5 687.1 L425.5 687.3 L427.5 687.8 L429.5 688.8 L431.5 690.4 L433.5 691.0 L435.5 690.3 L437.5 688.9 L439.5 687.9 L441.5 688.7 L443.5 690.1 L445.5 690.8 L447.5 690.9 L449.5 691.0 L451.5 691.3 L453.5 691.8 L455.5 692.7 L457.5 693.3 L459.5 693.7 L461.5 694.0 L463.5 694.5 L465.5 695.0 L467.5 695.1 L469.5 695.9 L471.5 697.4 L473.5 699.4 L475.5 700.9 L477.5 701.4 L479.5 701.5 L481.5 701.5 L483.5 700.9 L485.5 700.3 L487.5 701.7 L489.5 704.1 L491.5 704.9 L493.5 704.5 L495.5 704.5 L497.5 705.1 L499.5 705.3 L501.5 705.8 L503.5 707.1 L505.5 708.1 L507.5 708.1 L509.5 707.4 L511.5 706.7 L513.5 707.2 L515.5 709.1 L517.5 712.1 L519.5 714.8 L521.5 716.7 L523.5 718.5 L525.5 719.6 L527.5 719.5 L529.5 718.5 L531.5 717.2 L533.5 717.2 L535.5 719.5 L537.5 723.2 L539.5 726.1 L541.5 727.3 L543.5 728.7 L545.5 730.6 L547.5 731.9 L549.5 732.7 L551.5 734.2 L553.5 737.0 L555.5 740.0 L557.5 742.4 L559.5 744.4 L561.5 746.4 L563.5 748.8 L565.5 751.3 L567.5 753.9 L569.5 756.7 L571.5 759.2 L573.5 761.5 L575.5 763.7 L577.5 766.8 L579.5 770.9 L581.5 775.3 L583.5 779.4 L585.5 782.7 L587.5 786.4 L589.5 791.6 L591.5 797.9 L593.5 804.5 L595.5 810.5 L597.5 816.0 L599.5 821.5 L601.5 827.6 L603.5 834.7 L605.5 842.0 L607.5 848.9 L609.5 855.5 L611.5 861.9 L613.5 868.5 L615.5 875.0 L617.5 881.4 L619.5 888.4 L621.5 895.7 L623.5 902.6 L625.5 909.0 L627.5 915.1 L629.5 920.9 L631.5 926.0 L633.5 930.5 L635.5 935.3 L637.5 940.6 L639.5 945.3 L641.5 949.4 L643.5 953.9 L645.5 959.3 L647.5 964.2 L649.5 967.2 L651.5 969.4 L653.5 971.9 L655.5 975.0 L657.5 977.6 L659.5 979.4 L661.5 981.2 L663.5 983.7 L665.5 987.3 L667.5 990.9 L669.5 993.9 L671.5 996.3 L673.5 999.0 L675.5 1001.8 L677.5 1003.8 L679.5 1006.0 L681.5 1009.2 L683.5 1012.9 L685.5 1015.9 L687.5 1017.8 L689.5 1019.8 L691.5 1022.5 L693.5 1025.2 L695.5 1027.5 L697.5 1029.3 L699.5 1031.4 L701.5 1033.9 L703.5 1036.0 L705.5 1038.0 L707.5 1040.1 L709.5 1042.4 L711.5 1045.3 L713.5 1048.3 L715.5 1051.1 L717.5 1053.3 L719.5 1055.2 L721.5 1057.0 L723.5 1058.4 L725.5 1059.7 L727.5 1061.9 L729.5 1064.7 L731.5 1066.9 L733.5 1068.2 L735.5 1068.9 L737.5 1068.6 L739.5 1068.0 L741.5 1068.3 L743.5 1070.2 L745.5 1072.3 L747.5 1074.1 L749.5 1075.5 L751.5 1076.5 L753.5 1076.9 L755.5 1077.3 L757.5 1078.2 L759.5 1078.9 L761.5 1079.5 L763.5 1080.2 L765.5 1080.9 L767.5 1081.2 L769.5 1081.4 L771.5 1081.6 L773.5 1081.2 L775.5 1080.4 L777.5 1079.9 L779.5 1079.7 L781.5 1079.5 L783.5 1079.5 L785.5 1079.6 L787.5 1079.1 L789.5 1078.4 L791.5 1077.8 L793.5 1077.5 L795.5 1077.3 L797.5 1077.2 L799.5 1077.3 L801.5 1077.8 L803.5 1077.8 L805.5 1076.2 L807.5 1074.0 L809.5 1072.9 L811.5 1072.8 L813.5 1072.8 L815.5 1072.4 L817.5 1071.9 L819.5 1071.2 L821.5 1069.9 L823.5 1068.4 L825.5 1067.0 L827.5 1065.9 L829.5 1065.0 L831.5 1064.2 L833.5 1063.9 L835.5 1064.0 L837.5 1063.8 L839.5 1062.7 L841.5 1060.3 L843.5 1057.7 L845.5 1056.0 L847.5 1055.1 L849.5 1054.0 L851.5 1052.7 L853.5 1052.3 L855.5 1052.6 L857.5 1052.2 L859.5 1050.6 L861.5 1048.3 L863.5 1046.0 L865.5 1043.2 L867.5 1040.3 L869.5 1038.1 L871.5 1037.1 L873.5 1036.6 L875.5 1035.5 L877.5 1034.2 L879.5 1033.1 L881.5 1031.9 L883.5 1030.0 L885.5 1028.0 L887.5 1026.5 L889.5 1025.4 L891.5 1023.9 L893.5 1022.2 L895.5 1021.1 L897.5 1020.5 L899.5 1019.4 L901.5 1017.7 L903.5 1015.7 L905.5 1013.9 L907.5 1012.2 L909.5 1010.6 L911.5 1009.3 L913.5 1008.5 L915.5 1007.9 L917.5 1006.7 L919.5 1004.4 L921.5 1002.0 L923.5 1001.0 L925.5 1000.6 L927.5 999.6 L929.5 997.8 L931.5 995.8 L933.5 993.9 L935.5 991.9 L937.5 990.0 L939.5 988.2 L941.5 986.8 L943.5 985.4 L945.5 983.9 L947.5 982.6 L949.5 981.9 L951.5 981.9 L953.5 981.8 L955.5 980.7 L957.5 978.9 L959.5 976.7 L961.5 974.8 L963.5 973.4 L965.5 972.6 L967.5 971.6 L969.5 970.0 L971.5 968.1 L973.5 966.2 L975.5 964.6 L977.5 963.5 L979.5 962.7 L981.5 961.8 L983.5 960.6 L985.5 959.1 L987.5 957.9 L989.5 957.4 L991.5 957.0 L993.5 955.7 L995.5 953.3 L997.5 951.3 L999.5 950.2 L1001.5 950.0 L1003.5 949.7 L1005.5 948.4 L1007.5 946.4 L1009.5 944.4 L1011.5 942.8 L1013.5 941.1 L1015.5 939.2 L1017.5 937.7 L1019.5 937.0 L1021.5 936.4 L1023.5 935.0 L1025.5 933.3 L1027.5 931.4 L1029.5 929.3 L1031.5 927.3 L1033.5 926.1 L1035.5 925.3 L1037.5 923.9 L1039.5 921.9 L1041.5 920.6 L1043.5 920.3 L1045.5 920.4 L1047.5 920.3 L1049.5 919.7 L1051.5 918.1 L1053.5 916.2 L1055.5 914.9 L1057.5 914.4 L1059.5 914.2 L1061.5 913.7 L1063.5 913.1 L1065.5 911.8 L1067.5 909.6 L1069.5 907.7 L1071.5 906.9 L1073.5 907.2 L1075.5 907.3 L1077.5 906.4 L1079.5 905.4 L1081.5 904.8 L1083.5 904.2 L1085.5 903.0 L1087.5 901.6 L1089.5 900.2 L1091.5 898.7 L1093.5 897.0 L1095.5 895.5 L1097.5 894.4 L1099.5 893.2 L1101.5 892.3 L1103.5 891.9 L1105.5 891.9 L1107.5 891.7 L1109.5 891.5 L1111.5 891.2 L1113.5 890.5 L1115.5 889.4 L1117.5 888.4 L1119.5 887.6 L1121.5 886.3 L1123.5 884.9 L1125.5 883.8 L1127.5 883.5 L1129.5 883.4 L1131.5 882.6 L1133.5 881.3 L1135.5 880.1 L1137.5 879.0 L1139.5 877.9 L1141.5 876.9 L1143.5 876.7 L1145.5 876.6 L1147.5 875.8 L1149.5 874.6 L1151.5 874.0 L1153.5 873.7 L1155.5 873.5 L1157.5 873.0 L1159.5 872.7 L1161.5 872.6 L1163.5 872.1 L1165.5 870.9 L1167.5 869.6 L1169.5 868.9 L1171.5 868.8 L1173.5 868.7 L1175.5 868.7 L1177.5 868.2 L1179.5 867.3 L1181.5 866.4 L1183.5 866.0 L1185.5 865.8 L1187.5 865.3 L1189.5 864.3 L1191.5 862.9 L1193.5 861.2 L1195.5 860.1 L1197.5 859.9 L1199.5 860.8 L1201.5 862.0 L1203.5 862.3 L1205.5 861.8 L1207.5 860.8 L1209.5 860.1 L1211.5 859.9 L1213.5 859.7 L1215.5 858.9 L1217.5 857.5 L1219.5 856.0 L1221.5 854.6 L1223.5 853.9 L1225.5 854.1 L1227.5 854.5 L1229.5 854.6 L1231.5 854.2 L1233.5 854.0 L1235.5 854.4 L1237.5 855.2 L1239.5 855.1 L1241.5 853.7 L1243.5 852.2 L1245.5 852.0 L1247.5 852.5 L1249.5 852.4 L1251.5 851.3 L1253.5 849.8 L1255.5 848.8 L1257.5 848.3 L1259.5 848.3 L1261.5 848.8 L1263.5 849.6 L1265.5 850.2 L1267.5 850.3 L1269.5 849.5 L1271.5 848.4 L1273.5 847.4 L1275.5 847.3 L1277.5 847.7 L1279.5 847.9 L1281.5 847.5 L1283.5 846.9 L1285.5 846.2 L1287.5 845.1 L1289.5 844.3 L1291.5 844.0 L1293.5 843.9 L1295.5 843.4 L1297.5 843.2 L1299.5 844.2 L1301.5 845.3 L1303.5 845.1 L1305.5 843.9 L1307.5 843.2 L1309.5 843.5 L1311.5 843.9 L1313.5 843.6 L1315.5 843.2 L1317.5 843.0 L1319.5 843.3 L1321.5 843.9 L1323.5 844.4 L1325.5 844.5 L1327.5 844.3 L1329.5 843.7 L1331.5 843.0 L1333.5 842.6 L1335.5 842.6 L1337.5 842.4 L1339.5 842.2 L1341.5 842.2 L1343.5 842.6 L1345.5 842.7 L1347.5 842.0 L1349.5 841.4 L1351.5 841.7 L1353.5 842.7 L1355.5 843.0 L1357.5 842.3 L1359.5 840.9 L1361.5 839.3 L1363.5 838.2 L1365.5 838.2 L1367.5 839.0 L1369.5 839.7 L1371.5 840.0 L1373.5 840.1 L1375.5 839.7 L1377.5 838.7 L1379.5 837.7 L1381.5 837.4 L1383.5 837.0 L1385.5 836.6 L1387.5 837.3 L1389.5 838.9 L1391.5 840.3 L1393.5 841.1 L1395.5 841.8 L1397.5 842.1 L1399.5 841.4 L1401.5 840.6 L1403.5 840.3 L1405.5 839.9 L1407.5 839.4 L1409.5 838.8 L1411.5 838.0 L1413.5 837.5 L1415.5 837.6 L1417.5 838.3 L1419.5 838.8 L1421.5 839.1 L1423.5 839.1 L1425.5 838.7 L1427.5 838.1 L1429.5 837.7 L1431.5 837.4 L1433.5 836.9 L1435.5 836.5 L1437.5 836.7 L1439.5 837.5 L1441.5 838.2 L1443.5 838.5 L1445.5 838.7 L1447.5 838.9 L1449.5 838.3 L1451.5 837.0 L1453.5 836.5 L1455.5 837.3 L1457.5 838.6 L1459.5 839.7 L1461.5 840.2 L1463.5 840.0 L1465.5 839.2 L1467.5 838.8 L1469.5 838.7 L1471.5 839.1 L1473.5 839.4 L1475.5 839.1 L1477.5 838.9 L1479.5 839.2 L1481.5 839.5 L1483.5 839.5 L1485.5 839.3 L1487.5 839.1 L1489.5 838.8 L1491.5 838.5 L1493.5 838.4 L1495.5 838.0 L1497.5 837.4 L1499.5 837.6 L1501.5 838.4 L1503.5 839.0 L1505.5 838.8 L1507.5 838.0 L1509.5 837.2 L1511.5 836.9 L1513.5 837.0 L1515.5 837.4 L1517.5 837.7 L1519.5 837.2 L1521.5 835.6 L1523.5 834.6 L1525.5 835.4 L1527.5 836.9 L1529.5 837.6 L1531.5 837.3 L1533.5 837.0 L1535.5 836.5 L1537.5 835.7 L1539.5 835.4 L1541.5 836.0 L1543.5 837.0 L1545.5 837.2 L1547.5 836.4 L1549.5 835.5 L1551.5 835.7 L1553.5 836.9 L1555.5 838.0 L1557.5 838.1 L1559.5 837.0 L1561.5 835.5 L1563.5 834.4 L1565.5 834.1 L1567.5 834.7 L1569.5 835.9 L1571.5 836.6 L1573.5 836.6 L1575.5 836.8 L1577.5 837.1 L1579.5 837.1 L1581.5 836.3 L1583.5 835.2 L1585.5 834.8 L1587.5 835.3 L1589.5 836.2 L1591.5 837.1 L1593.5 837.3 L1595.5 836.9 L1597.5 836.1 L1599.5 835.5 L1601.5 835.5 L1603.5 835.9 L1605.5 836.3 L1607.5 836.5 L1609.5 837.1 L1611.5 837.6 L1613.5 837.6 L1615.5 837.8 L1617.5 838.0 L1619.5 837.9 L1621.5 837.5 L1623.5 837.1 L1625.5 836.7 L1627.5 836.0 L1629.5 835.6 L1631.5 835.5 L1633.5 836.1 L1635.5 836.8 L1637.5 836.9 L1639.5 835.8 L1641.5 834.5 L1643.5 834.3 L1645.5 835.3 L1647.5 836.1 L1649.5 836.3 L1651.5 836.5 L1653.5 837.3 L1655.5 837.6 L1657.5 837.0 L1659.5 836.6 L1661.5 836.0 L1663.5 834.7 L1665.5 833.5 L1667.5 833.2 L1669.5 833.9 L1671.5 834.7 L1673.5 834.9 L1675.5 835.0 L1677.5 835.6 L1679.5 836.4 L1681.5 836.4 L1683.5 835.8 L1685.5 835.5 L1687.5 836.1 L1689.5 836.7 L1691.5 836.7 L1693.5 836.3 L1695.5 835.9 L1697.5 835.8 L1699.5 835.6 L1701.5 835.3 L1703.5 835.0 L1705.5 835.1 L1707.5 835.5 L1709.5 835.6 L1711.5 834.9 L1713.5 834.1 L1715.5 834.2 L1717.5 835.1 L1719.5 835.8 L1721.5 835.8 L1723.5 835.6 L1725.5 835.8 L1727.5 836.3 L1729.5 836.8 L1731.5 836.8 L1733.5 836.5 L1735.5 836.0 L1737.5 835.5 L1739.5 834.9 L1741.5 834.7 L1743.5 834.5 L1745.5 833.9 L1747.5 833.4 L1749.5 833.9 L1751.5 835.3 L1753.5 836.6 L1755.5 836.5 L1757.5 835.3 L1759.5 834.2 L1761.5 833.9 L1763.5 834.2 L1765.5 834.3 L1767.5 834.1 L1769.5 834.3 L1771.5 835.2 L1773.5 836.2 L1775.5 836.3 L1777.5 835.8 L1779.5 835.5 L1781.5 835.7 L1783.5 835.6 L1785.5 835.2 L1787.5 834.8 L1789.5 834.2 L1791.5 833.8 L1793.5 834.0 L1795.5 834.7 L1797.5 835.2 L1799.5 835.1 L1801.5 835.4 L1803.5 836.0 L1805.5 836.2 L1807.5 835.5 L1809.5 834.3 L1811.5 833.8 L1813.5 834.3 L1815.5 835.4 L1817.5 836.0 L1819.5 835.7 L1821.5 835.1 L1823.5 835.4 L1825.5 836.4 L1827.5 837.2 L1829.5 837.1 L1831.5 836.5 L1833.5 835.9 L1835.5 835.6 L1837.5 835.0 L1839.5 834.6 L1841.5 835.1 L1843.5 836.2 L1845.5 836.9 L1847.5 837.0 L1849.5 837.1 L1851.5 837.6 L1853.5 838.2 L1855.5 838.2 L1857.5 837.4 L1859.5 836.2 L1861.5 835.3 L1863.5 835.2 L1865.5 835.2 L1867.5 834.9 L1869.5 834.6 L1871.5 835.2 L1873.5 836.8 L1875.5 838.3 L1877.5 838.5 L1879.5 837.7 L1881.5 836.7 L1883.5 836.4 L1885.5 836.9 L1887.5 837.2 L1889.5 836.8 L1891.5 836.6 L1893.5 837.1 L1895.5 837.9 L1897.5 838.0 L1899.5 837.6 L1901.5 837.5 L1903.5 838.0 L1905.5 838.4 L1907.5 838.2 L1909.5 837.7 L1911.5 837.5 L1913.5 837.5 L1915.5 837.3 L1917.5 837.1 L1919.5 837.5 L1921.5 838.6 L1923.5 839.5 L1925.5 839.7 L1927.5 839.4 L1929.5 838.9 L1931.5 838.4 L1933.5 838.1 L1935.5 838.3 L1937.5 838.7 L1939.5 838.7 L1941.5 838.8 L1943.5 838.5 L1945.5 837.5 L1947.5 836.7 L1949.5 836.6 L1951.5 837.6 L1953.5 839.0 L1955.5 840.0 L1957.5 839.9 L1959.5 838.8 L1961.5 838.1 L1963.5 838.5 L1965.5 839.1 L1967.5 839.0 L1969.5 838.9 L1971.5 839.2 L1973.5 839.4 L1975.5 839.7 L1977.5 839.8 L1979.5 839.8 L1981.5 839.7 L1983.5 839.9 L1985.5 840.9 L1987.5 841.6 L1989.5 841.4 L1991.5 841.2 L1993.5 841.6 L1995.5 842.6 L1997.5 843.4 L1999.5 843.5 L2001.5 843.0 L2003.5 842.4 L2005.5 842.2 L2007.5 842.4 L2009.5 842.7 L2011.5 843.0 L2013.5 843.1 L2015.5 843.2 L2017.5 843.2 L2019.5 842.7 L2021.5 842.3 L2023.5 842.4 L2025.5 843.0 L2027.5 843.9 L2029.5 844.9 L2031.5 845.6 L2033.5 845.4 L2035.5 844.2 L2037.5 843.0 L2039.5 842.7 L2041.5 843.4 L2043.5 844.3 L2045.5 845.1 L2047.5 845.8 L2049.5 846.8 L2051.5 847.5" stroke="#0000ff"/>
<path d="M281.5 681.0 L283.5 681.2 L285.5 680.4 L287.5 679.5 L289.5 678.8 L291.5 678.4 L293.5 677.1 L295.5 675.3 L297.5 675.4 L299.5 678.2 L301.5 681.9 L303.5 683.7 L305.5 683.7 L307.5 683.1 L309.5 682.5 L311.5 682.0 L313.5 681.6 L315.5 681.9 L317.5 682.0 L319.5 682.5 L321.5 684.2 L323.5 686.5 L325.5 687.9 L327.5 688.0 L329.5 687.6 L331.5 686.6 L333.5 684.3 L335.5 682.3 L337.5 682.2 L339.5 682.3 L341.5 681.6 L343.5 681.5 L345.5 683.3 L347.5 686.3 L349.5 688.3 L351.5 688.7 L353.5 687.9 L355.5 686.6 L357.5 685.7 L359.5 685.2 L361.5 685.9 L363.5 687.0 L365.5 686.9 L367.5 686.2 L369.5 685.7 L371.5 686.1 L373.5 686.8 L375.5 687.7 L377.5 688.2 L379.5 687.5 L381.5 686.6 L383.5 685.9 L385.5 685.3 L387.5 684.8 L389.5 685.1 L391.5 686.3 L393.5 687.0 L395.5 686.2 L397.5 685.7 L399.5 686.9 L401.5 688.8 L403.5 689.5 L405.5 689.0 L407.5 688.9 L409.5 689.4 L411.5 689.8 L413.5 689.9 L415.5 690.3 L417.5 691.5 L419.5 691.9 L421.5 690.6 L423.5 688.9 L425.5 688.6 L427.5 690.0 L429.5 691.1 L431.5 691.2 L433.5 691.4 L435.5 691.9 L437.5 691.7 L439.5 691.3 L441.5 691.6 L443.5 692.1 L445.5 692.5 L447.5 693.1 L449.5 693.0 L451.5 692.2 L453.5 692.3 L455.5 694.5 L457.5 697.2 L459.5 697.4 L461.5 695.8 L463.5 695.3 L465.5 696.2 L467.5 697.6 L469.5 698.0 L471.5 697.8 L473.5 698.5 L475.5 700.2 L477.5 701.2 L479.5 700.4 L481.5 699.0 L483.5 699.2 L485.5 700.7 L487.5 702.5 L489.5 703.6 L491.5 704.0 L493.5 704.1 L495.5 704.1 L497.5 704.7 L499.5 706.1 L501.5 707.8 L503.5 708.8 L505.5 709.0 L507.5 709.3 L509.5 709.8 L511.5 709.8 L513.5 709.8 L515.5 710.0 L517.5 710.8 L519.5 712.8 L521.5 715.7 L523.5 718.3 L525.5 719.9 L527.5 720.8 L529.5 721.2 L531.5 721.1 L533.5 721.3 L535.5 722.9 L537.5 725.2 L539.5 726.9 L541.5 728.2 L543.5 729.8 L545.5 731.3 L547.5 732.5 L549.5 734.0 L551.5 736.7 L553.5 740.7 L555.5 744.9 L557.5 747.6 L559.5 748.7 L561.5 749.8 L563.5 752.3 L565.5 756.0 L567.5 759.2 L569.5 761.4 L571.5 763.5 L573.5 766.4 L575.5 770.2 L577.5 773.6 L579.5 776.2 L581.5 778.9 L583.5 783.0 L585.5 787.8 L587.5 792.2 L589.5 796.4 L591.5 801.1 L593.5 806.8 L595.5 813.6 L597.5 821.1 L599.5 827.6 L601.5 832.9 L603.5 838.2 L605.5 844.3 L607.5 851.4 L609.5 859.2 L611.5 867.5 L613.5 875.6 L615.5 882.7 L617.5 889.5 L619.5 896.7 L621.5 904.0 L623.5 911.1 L625.5 918.3 L627.5 925.5 L629.5 932.1 L631.5 937.7 L633.5 942.7 L635.5 947.4 L637.5 952.7 L639.5 958.3 L641.5 963.0 L643.5 966.6 L645.5 969.5 L647.5 972.2 L649.5 975.0 L651.5 978.2 L653.5 981.9 L655.5 985.6 L657.5 988.7 L659.5 991.4 L661.5 994.3 L663.5 997.3 L665.5 999.7 L667.5 1002.0 L669.5 1005.1 L671.5 1009.3 L673.5 1013.9 L675.5 1017.7 L677.5 1020.4 L679.5 1022.5 L681.5 1024.3 L683.5 1026.6 L685.5 1030.1 L687.5 1033.9 L689.5 1037.0 L691.5 1039.3 L693.5 1041.2 L695.5 1043.1 L697.5 1045.1 L699.5 1047.2 L701.5 1048.9 L703.5 1050.1 L705.5 1051.7 L707.5 1054.5 L709.5 1057.8 L711.5 1060.7 L713.5 1063.5 L715.5 1065.8 L717.5 1066.8 L719.5 1066.7 L721.5 1067.1 L723.5 1068.9 L725.5 1071.7 L727.5 1075.2 L729.5 1078.5 L731.5 1080.4 L733.5 1080.8 L735.5 1080.4 L737.5 1080.1 L739.5 1080.7 L741.5 1082.7 L743.5 1085.6 L745.5 1087.6 L747.5 1088.6 L749.5 1089.6 L751.5 1090.8 L753.5 1091.5 L755.5 1091.6 L757.5 1092.1 L759.5 1093.6 L761.5 1095.1 L763.5 1095.4 L765.5 1095.2 L767.5 1095.1 L769.5 1095.4 L771.5 1095.5 L773.5 1095.1 L775.5 1094.4 L777.5 1093.3 L779.5 1092.3 L781.5 1092.0 L783.5 1092.8 L785.5 1094.3 L787.5 1094.8 L789.5 1093.9 L791.5 1092.6 L793.5 1091.8 L795.5 1091.8 L797.5 1091.6 L799.5 1090.7 L801.5 1089.5 L803.5 1089.1 L805.5 1089.0 L807.5 1088.5 L809.5 1087.9 L811.5 1087.8 L813.5 1088.2 L815.5 1088.0 L817.5 1086.7 L819.5 1085.0 L821.5 1083.8 L823.5 1083.1 L825.5 1082.0 L827.5 1080.1 L829.5 1078.2 L831.5 1076.9 L833.5 1076.0 L835.5 1075.0 L837.5 1073.6 L839.5 1072.1 L841.5 1070.4 L843.5 1068.6 L845.5 1067.6 L847.5 1067.1 L849.5 1066.7 L851.5 1066.0 L853.5 1065.2 L855.5 1064.3 L857.5 1063.0 L859.5 1061.4 L861.5 1059.8 L863.5 1058.3 L865.5 1057.0 L867.5 1055.3 L869.5 1053.0 L871.5 1050.8 L873.5 1049.7 L875.5 1048.9 L877.5 1047.3 L879.5 1045.1 L881.5 1043.1 L883.5 1041.7 L885.5 1040.1 L887.5 1037.6 L889.5 1035.2 L891.5 1034.2 L893.5 1034.6 L895.5 1034.8 L897.5 1033.8 L899.5 1031.9 L901.5 1029.2 L903.5 1026.7 L905.5 1024.8 L907.5 1023.7 L909.5 1022.8 L911.5 1021.8 L913.5 1021.0 L915.5 1020.3 L917.5 1018.9 L919.5 1016.9 L921.5 1014.9 L923.5 1013.0 L925.5 1011.4 L927.5 1010.2 L929.5 1008.8 L931.5 1007.2 L933.5 1006.1 L935.5 1005.3 L937.5 1004.0 L939.5 1001.5 L941.5 998.5 L943.5 996.2 L945.5 994.8 L947.5 994.3 L949.5 994.1 L951.5 993.4 L953.5 991.8 L955.5 989.6 L957.5 987.2 L959.5 985.4 L961.5 984.3 L963.5 983.8 L965.5 983.3 L967.5 982.3 L969.5 980.7 L971.5 978.9 L973.5 977.3 L975.5 976.6 L977.5 976.0 L979.5 975.1 L981.5 973.4 L983.5 971.4 L985.5 969.7 L987.5 968.5 L989.5 967.6 L991.5 966.0 L993.5 963.7 L995.5 962.0 L997.5 961.1 L999.5 960.6 L1001.5 959.6 L1003.5 958.0 L1005.5 956.0 L1007.5 954.1 L1009.5 952.8 L1011.5 952.3 L1013.5 951.7 L1015.5 950.3 L1017.5 948.2 L1019.5 946.2 L1021.5 944.5 L1023.5 942.9 L1025.5 941.3 L1027.5 939.5 L1029.5 937.7 L1031.5 936.5 L1033.5 935.8 L1035.5 935.1 L1037.5 933.8 L1039.5 932.5 L1041.5 931.5 L1043.5 930.6 L1045.5 929.5 L1047.5 927.9 L1049.5 926.3 L1051.5 924.7 L1053.5 923.4 L1055.5 922.0 L1057.5 920.6 L1059.5 919.4 L1061.5 918.5 L1063.5 917.8 L1065.5 917.5 L1067.5 917.4 L1069.5 916.7 L1071.5 915.6 L1073.5 914.4 L1075.5 913.4 L1077.5 912.7 L1079.5 912.0 L1081.5 911.2 L1083.5 910.1 L1085.5 909.1 L1087.5 907.8 L1089.5 905.6 L1091.5 903.4 L1093.5 902.2 L1095.5 901.6 L1097.5 901.0 L1099.5 899.7 L1101.5 898.1 L1103.5 896.9 L1105.5 896.7 L1107.5 897.1 L1109.5 897.2 L1111.5 897.0 L1113.5 896.8 L1115.5 896.4 L1117.5 895.5 L1119.5 894.4 L1121.5 893.2 L1123.5 891.9 L1125.5 890.6 L1127.5 889.6 L1129.5 888.9 L1131.5 888.4 L1133.5 888.0 L1135.5 887.3 L1137.5 886.3 L1139.5 885.7 L1141.5 885.8 L1143.5 886.1 L1145.5 885.8 L1147.5 884.9 L1149.5 883.5 L1151.5 882.3 L1153.5 881.7 L1155.5 881.4 L1157.5 881.0 L1159.5 880.2 L1161.5 879.2 L1163.5 878.4 L1165.5 878.1 L1167.5 877.7 L1169.5 877.1 L1171.5 876.5 L1173.5 876.7 L1175.5 877.2 L1177.5 875.9 L1179.5 873.0 L1181.5 870.9 L1183.5 871.0 L1185.5 871.9 L1187.5 872.2 L1189.5 871.7 L1191.5 870.8 L1193.5 869.9 L1195.5 869.2 L1197.5 869.0 L1199.5 869.4 L1201.5 869.1 L1203.5 868.2 L1205.5 867.6 L1207.5 867.7 L1209.5 867.5 L1211.5 867.3 L1213.5 866.7 L1215.5 865.6 L1217.5 864.2 L1219.5 862.9 L1221.5 862.2 L1223.5 861.3 L1225.5 860.7 L1227.5 860.7 L1229.5 861.2 L1231.5 861.4 L1233.5 861.0 L1235.5 860.3 L1237.5 859.7 L1239.5 859.1 L1241.5 858.6 L1243.5 858.5 L1245.5 858.2 L1247.5 857.8 L1249.5 857.1 L1251.5 856.2 L1253.5 855.1 L1255.5 854.6 L1257.5 854.9 L1259.5 855.1 L1261.5 855.0 L1263.5 855.1 L1265.5 855.6 L1267.5 856.1 L1269.5 856.4 L1271.5 856.5 L1273.5 856.1 L1275.5 855.7 L1277.5 855.4 L1279.5 855.0 L1281.5 854.4 L1283.5 853.4 L1285.5 852.2 L1287.5 851.2 L1289.5 850.6 L1291.5 850.3 L1293.5 850.5 L1295.5 851.1 L1297.5 851.9 L1299.5 851.7 L1301.5 850.5 L1303.5 849.0 L1305.5 848.1 L1307.5 848.2 L1309.5 849.0 L1311.5 850.1 L1313.5 850.9 L1315.5 851.0 L1317.5 850.5 L1319.5 849.9 L1321.5 849.2 L1323.5 848.5 L1325.5 847.9 L1327.5 847.7 L1329.5 848.0 L1331.5 848.4 L1333.5 848.4 L1335.5 847.5 L1337.5 846.6 L1339.5 846.6 L1341.5 847.5 L1343.5 848.1 L1345.5 848.0 L1347.5 847.9 L1349.5 847.9 L1351.5 847.8 L1353.5 847.4 L1355.5 846.9 L1357.5 846.6 L1359.5 846.5 L1361.5 846.5 L1363.5 846.2 L1365.5 846.0 L1367.5 846.7 L1369.5 847.5 L1371.5 847.1 L1373.5 846.2 L1375.5 845.7 L1377.5 845.5 L1379.5 844.9 L1381.5 843.7 L1383.5 843.3 L1385.5 843.8 L1387.5 844.6 L1389.5 844.9 L1391.5 844.9 L1393.5 845.3 L1395.5 845.9 L1397.5 846.2 L1399.5 845.7 L1401.5 844.5 L1403.5 842.9 L1405.5 841.5 L1407.5 841.5 L1409.5 842.7 L1411.5 844.4 L1413.5 845.3 L1415.5 845.0 L1417.5 844.2 L1419.5 843.3 L1421.5 843.0 L1423.5 842.8 L1425.5 842.0 L1427.5 841.6 L1429.5 842.2 L1431.5 842.9 L1433.5 842.8 L1435.5 842.0 L1437.5 841.9 L1439.5 842.7 L1441.5 843.7 L1443.5 843.9 L1445.5 843.5 L1447.5 843.4 L1449.5 844.1 L1451.5 844.6 L1453.5 843.9 L1455.5 842.3 L1457.5 841.3 L1459.5 842.0 L1461.5 843.6 L1463.5 844.6 L1465.5 845.1 L1467.5 845.3 L1469.5 844.8 L1471.5 844.0 L1473.5 843.5 L1475.5 843.7 L1477.5 844.1 L1479.5 843.7 L1481.5 843.1 L1483.5 842.8 L1485.5 842.7 L1487.5 842.7 L1489.5 843.1 L1491.5 843.8 L1493.5 844.1 L1495.5 843.7 L1497.5 843.2 L1499.5 843.2 L1501.5 843.2 L1503.5 842.6 L1505.5 841.4 L1507.5 840.3 L1509.5 839.9 L1511.5 840.5 L1513.5 841.3 L1515.5 841.8 L1517.5 841.4 L1519.5 840.8 L1521.5 840.7 L1523.5 841.3 L1525.5 841.8 L1527.5 841.4 L1529.5 840.6 L1531.5 840.2 L1533.5 840.6 L1535.5 841.7 L1537.5 842.7 L1539.5 843.2 L1541.5 843.0 L1543.5 842.4 L1545.5 842.0 L1547.5 841.8 L1549.5 841.9 L1551.5 842.3 L1553.5 842.9 L1555.5 843.2 L1557.5 842.9 L1559.5 842.1 L1561.5 841.6 L1563.5 841.8 L1565.5 842.2 L1567.5 841.9 L1569.5 841.0 L1571.5 839.9 L1573.5 839.3 L1575.5 839.6 L1577.5 840.6 L1579.5 841.5 L1581.5 841.5 L1583.5 841.0 L1585.5 841.1 L1587.5 842.1 L1589.5 842.7 L1591.5 842.4 L1593.5 841.6 L1595.5 841.2 L1597.5 840.9 L1599.5 840.1 L1601.5 839.3 L1603.5 839.2 L1605.5 839.5 L1607.5 840.0 L1609.5 840.6 L1611.5 841.2 L1613.5 841.4 L1615.5 841.3 L1617.5 841.1 L1619.5 840.5 L1621.5 839.7 L1623.5 839.0 L1625.5 838.7 L1627.5 838.8 L1629.5 839.2 L1631.5 839.9 L1633.5 840.5 L1635.5 840.8 L1637.5 840.7 L1639.5 840.7 L1641.5 841.0 L1643.5 841.2 L1645.5 841.5 L1647.5 841.8 L1649.5 841.5 L1651.5 841.0 L1653.5 840.7 L1655.5 840.5 L1657.5 840.4 L1659.5 840.1 L1661.5 839.8 L1663.5 839.7 L1665.5 839.4 L1667.5 838.6 L1669.5 837.8 L1671.5 838.0 L1673.5 838.9 L1675.5 839.2 L1677.5 838.8 L1679.5 838.9 L1681.5 839.3 L1683.5 839.2 L1685.5 838.7 L1687.5 838.3 L1689.5 838.1 L1691.5 838.1 L1693.5 838.4 L1695.5 839.0 L1697.5 839.3 L1699.5 839.5 L1701.5 840.2 L1703.5 841.1 L1705.5 841.8 L1707.5 841.9 L1709.5 841.7 L1711.5 841.1 L1713.5 840.6 L1715.5 840.6 L1717.5 840.6 L1719.5 840.8 L1721.5 841.3 L1723.5 841.4 L1725.5 840.6 L1727.5 839.4 L1729.5 838.6 L1731.5 838.3 L1733.5 837.9 L1735.5 837.7 L1737.5 837.7 L1739.5 838.1 L1741.5 838.9 L1743.5 840.3 L1745.5 841.1 L1747.5 840.4 L1749.5 838.7 L1751.5 837.5 L1753.5 837.9 L1755.5 839.2 L1757.5 839.9 L1759.5 839.6 L1761.5 838.6 L1763.5 838.0 L1765.5 838.1 L1767.5 838.4 L1769.5 838.5 L1771.5 838.8 L1773.5 839.7 L1775.5 840.3 L1777.5 840.1 L1779.5 839.7 L1781.5 839.7 L1783.5 840.0 L1785.5 839.5 L1787.5 838.8 L1789.5 838.5 L1791.5 838.3 L1793.5 838.3 L1795.5 838.9 L1797.5 840.2 L1799.5 841.3 L1801.5 841.5 L1803.5 840.7 L1805.5 839.4 L1807.5 838.5 L1809.5 838.4 L1811.5 839.1 L1813.5 839.9 L1815.5 840.6 L1817.5 841.2 L1819.5 841.1 L1821.5 840.4 L1823.5 839.8 L1825.5 839.5 L1827.5 839.1 L1829.5 838.9 L1831.5 838.9 L1833.5 838.6 L1835.5 837.9 L1837.5 837.4 L1839.5 838.1 L1841.5 839.4 L1843.5 840.5 L1845.5 840.7 L1847.5 840.4 L1849.5 839.9 L1851.5 840.1 L1853.5 841.1 L1855.5 842.5 L1857.5 843.6 L1859.5 843.4 L1861.5 841.9 L1863.5 840.2 L1865.5 839.4 L1867.5 839.4 L1869.5 840.2 L1871.5 841.3 L1873.5 842.4 L1875.5 843.1 L1877.5 843.3 L1879.5 843.2 L1881.5 843.3 L1883.5 843.8 L1885.5 844.2 L1887.5 843.8 L1889.5 843.0 L1891.5 842.9 L1893.5 843.0 L1895.5 843.2 L1897.5 843.2 L1899.5 843.0 L1901.5 842.7 L1903.5 842.0 L1905.5 841.4 L1907.5 841.2 L1909.5 841.4 L1911.5 841.4 L1913.5 841.3 L1915.5 841.3 L1917.5 841.8 L1919.5 842.6 L1921.5 843.6 L1923.5 844.6 L1925.5 845.2 L1927.5 845.5 L1929.5 845.5 L1931.5 845.6 L1933.5 845.7 L1935.5 845.5 L1937.5 845.4 L1939.5 845.6 L1941.5 846.0 L1943.5 846.1 L1945.5 845.2 L1947.5 844.0 L1949.5 842.7 L1951.5 841.6 L1953.5 841.1 L1955.5 841.2 L1957.5 841.9 L1959.5 842.7 L1961.5 843.0 L1963.5 842.8 L1965.5 842.6 L1967.5 842.5 L1969.5 843.1 L1971.5 844.7 L1973.5 846.3 L1975.5 846.9 L1977.5 846.8 L1979.5 846.8 L1981.5 846.8 L1983.5 846.1 L1985.5 845.0 L1987.5 844.5 L1989.5 845.6 L1991.5 847.5 L1993.5 848.4 L1995.5 847.5 L1997.5 846.9 L1999.5 847.5 L2001.5 848.5 L2003.5 848.7 L2005.5 848.6 L2007.5 848.4 L2009.5 848.1 L2011.5 847.7 L2013.5 847.3 L2015.5 846.9 L2017.5 846.8 L2019.5 846.7 L2021.5 846.3 L2023.5 846.2 L2025.5 846.5 L2027.5 847.1 L2029.5 847.6 L2031.5 848.0 L2033.5 848.2 L2035.5 848.2 L2037.5 848.5 L2039.5 849.3 L2041.5 850.0 L2043.5 849.9 L2045.5 850.0 L2047.5 850.7 L2049.5 851.4 L2051.5 851.8" stroke="#ff00ff"/>
<path d="M281.5 680.3 L283.5 682.9 L285.5 685.1 L287.5 683.7 L289.5 680.2 L291.5 678.6 L293.5 679.6 L295.5 680.1 L297.5 679.2 L299.5 678.1 L301.5 677.6 L303.5 677.6 L305.5 677.7 L307.5 678.8 L309.5 681.3 L311.5 684.2 L313.5 685.5 L315.5 684.5 L317.5 683.0 L319.5 682.3 L321.5 683.2 L323.5 685.1 L325.5 686.2 L327.5 686.2 L329.5 685.7 L331.5 685.6 L333.5 685.6 L335.5 685.6 L337.5 685.3 L339.5 684.1 L341.5 681.6 L343.5 679.6 L345.5 680.3 L347.5 682.9 L349.5 685.5 L351.5 686.6 L353.5 686.8 L355.5 687.1 L357.5 687.7 L359.5 688.2 L361.5 689.0 L363.5 688.4 L365.5 686.3 L367.5 684.6 L369.5 684.6 L371.5 686.5 L373.5 688.5 L375.5 689.5 L377.5 689.8 L379.5 690.1 L381.5 689.8 L383.5 688.6 L385.5 687.1 L387.5 686.9 L389.5 688.7 L391.5 690.7 L393.5 692.4 L395.5 692.8 L397.5 691.9 L399.5 690.2 L401.5 688.7 L403.5 688.6 L405.5 689.2 L407.5 689.2 L409.5 688.5 L411.5 687.8 L413.5 688.0 L415.5 689.3 L417.5 690.2 L419.5 689.4 L421.5 688.1 L423.5 688.1 L425.5 688.7 L427.5 689.1 L429.5 689.8 L431.5 691.1 L433.5 692.1 L435.5 692.4 L437.5 692.3 L439.5 692.4 L441.5 692.4 L443.5 692.0 L445.5 692.0 L447.5 692.5 L449.5 693.0 L451.5 692.9 L453.5 692.6 L455.5 693.2 L457.5 693.7 L459.5 692.7 L461.5 691.4 L463.5 691.9 L465.5 694.1 L467.5 696.1 L469.5 697.1 L471.5 697.7 L473.5 698.4 L475.5 699.4 L477.5 700.4 L479.5 700.7 L481.5 700.4 L483.5 700.2 L485.5 700.5 L487.5 700.9 L489.5 701.2 L491.5 701.6 L493.5 702.7 L495.5 704.6 L497.5 706.4 L499.5 707.6 L501.5 708.0 L503.5 708.3 L505.5 709.2 L507.5 710.6 L509.5 711.3 L511.5 710.7 L513.5 710.2 L515.5 711.1 L517.5 713.2 L519.5 715.6 L521.5 717.9 L523.5 720.0 L525.5 721.6 L527.5 722.4 L529.5 723.0 L531.5 724.2 L533.5 725.4 L535.5 726.1 L537.5 726.8 L539.5 727.8 L541.5 729.1 L543.5 730.5 L545.5 731.6 L547.5 732.7 L549.5 733.8 L551.5 736.0 L553.5 739.9 L555.5 744.2 L557.5 747.6 L559.5 750.0 L561.5 752.0 L563.5 754.2 L565.5 756.6 L567.5 759.5 L569.5 763.0 L571.5 766.3 L573.5 768.5 L575.5 770.3 L577.5 772.8 L579.5 776.7 L581.5 781.3 L583.5 785.4 L585.5 788.9 L587.5 792.4 L589.5 797.0 L591.5 802.7 L593.5 809.0 L595.5 815.6 L597.5 821.9 L599.5 827.6 L601.5 832.9 L603.5 839.1 L605.5 847.0 L607.5 855.7 L609.5 864.8 L611.5 874.1 L613.5 882.6 L615.5 889.2 L617.5 895.2 L619.5 902.9 L621.5 912.0 L623.5 920.4 L625.5 927.0 L627.5 932.9 L629.5 938.9 L631.5 944.9 L633.5 951.0 L635.5 957.3 L637.5 963.0 L639.5 968.1 L641.5 972.0 L643.5 975.0 L645.5 978.1 L647.5 982.1 L649.5 986.5 L651.5 990.0 L653.5 992.3 L655.5 994.5 L657.5 997.1 L659.5 1000.1 L661.5 1003.1 L663.5 1006.7 L665.5 1010.2 L667.5 1013.3 L669.5 1015.7 L671.5 1017.3 L673.5 1019.1 L675.5 1022.3 L677.5 1026.1 L679.5 1029.2 L681.5 1032.0 L683.5 1035.2 L685.5 1038.9 L687.5 1042.4 L689.5 1045.0 L691.5 1047.3 L693.5 1049.4 L695.5 1051.5 L697.5 1053.3 L699.5 1055.2 L701.5 1057.8 L703.5 1060.4 L705.5 1061.7 L707.5 1062.7 L709.5 1064.7 L711.5 1067.4 L713.5 1069.8 L715.5 1071.9 L717.5 1074.3 L719.5 1076.7 L721.5 1078.7 L723.5 1080.2 L725.5 1081.5 L727.5 1082.5 L729.5 1083.9 L731.5 1085.8 L733.5 1088.0 L735.5 1090.0 L737.5 1091.3 L739.5 1091.8 L741.5 1092.8 L743.5 1094.4 L745.5 1096.1 L747.5 1097.3 L749.5 1098.2 L751.5 1099.3 L753.5 1100.4 L755.5 1101.1 L757.5 1101.7 L759.5 1102.6 L761.5 1103.9 L763.5 1104.9 L765.5 1104.8 L767.5 1103.9 L769.5 1103.0 L771.5 1102.4 L773.5 1102.1 L775.5 1101.6 L777.5 1101.4 L779.5 1101.1 L781.5 1100.4 L783.5 1099.8 L785.5 1099.6 L787.5 1099.6 L789.5 1100.0 L791.5 1100.3 L793.5 1099.7 L795.5 1098.2 L797.5 1097.1 L799.5 1096.9 L801.5 1097.6 L803.5 1097.9 L805.5 1097.1 L807.5 1095.8 L809.5 1094.9 L811.5 1094.7 L813.5 1094.2 L815.5 1093.1 L817.5 1091.8 L819.5 1090.5 L821.5 1089.3 L823.5 1088.1 L825.5 1087.1 L827.5 1086.2 L829.5 1085.2 L831.5 1084.4 L833.5 1083.8 L835.5 1082.8 L837.5 1081.6 L839.5 1080.8 L841.5 1079.6 L843.5 1077.0 L845.5 1074.6 L847.5 1073.4 L849.5 1073.1 L851.5 1072.9 L853.5 1072.0 L855.5 1070.8 L857.5 1069.7 L859.5 1068.9 L861.5 1067.7 L863.5 1065.2 L865.5 1061.9 L867.5 1059.3 L869.5 1057.6 L871.5 1056.7 L873.5 1056.2 L875.5 1055.6 L877.5 1054.9 L879.5 1053.0 L881.5 1050.2 L883.5 1047.7 L885.5 1046.0 L887.5 1044.7 L889.5 1043.4 L891.5 1042.0 L893.5 1040.3 L895.5 1038.8 L897.5 1038.5 L899.5 1038.6 L901.5 1036.7 L903.5 1033.3 L905.5 1030.0 L907.5 1028.2 L909.5 1027.5 L911.5 1026.6 L913.5 1025.4 L915.5 1024.3 L917.5 1023.7 L919.5 1023.0 L921.5 1021.5 L923.5 1019.7 L925.5 1018.2 L927.5 1016.6 L929.5 1014.8 L931.5 1013.5 L933.5 1013.0 L935.5 1011.8 L937.5 1009.2 L939.5 1005.9 L941.5 1003.5 L943.5 1002.2 L945.5 1000.7 L947.5 999.3 L949.5 998.8 L951.5 999.0 L953.5 998.4 L955.5 996.4 L957.5 993.9 L959.5 991.8 L961.5 990.2 L963.5 989.5 L965.5 989.2 L967.5 988.1 L969.5 986.4 L971.5 984.3 L973.5 982.6 L975.5 982.0 L977.5 982.0 L979.5 981.6 L981.5 980.2 L983.5 977.9 L985.5 975.4 L987.5 973.0 L989.5 971.1 L991.5 969.9 L993.5 969.0 L995.5 968.4 L997.5 968.1 L999.5 967.5 L1001.5 966.2 L1003.5 964.7 L1005.5 963.2 L1007.5 961.9 L1009.5 960.5 L1011.5 959.0 L1013.5 957.0 L1015.5 954.9 L1017.5 953.1 L1019.5 951.7 L1021.5 950.1 L1023.5 947.8 L1025.5 945.4 L1027.5 943.9 L1029.5 943.3 L1031.5 943.0 L1033.5 942.7 L1035.5 941.9 L1037.5 940.0 L1039.5 937.3 L1041.5 935.0 L1043.5 933.8 L1045.5 933.3 L1047.5 932.5 L1049.5 930.9 L1051.5 928.6 L1053.5 926.1 L1055.5 924.4 L1057.5 923.7 L1059.5 923.3 L1061.5 922.3 L1063.5 921.4 L1065.5 921.3 L1067.5 921.8 L1069.5 922.0 L1071.5 921.3 L1073.5 919.7 L1075.5 917.8 L1077.5 915.8 L1079.5 914.0 L1081.5 913.0 L1083.5 912.9 L1085.5 913.1 L1087.5 912.7 L1089.5 911.3 L1091.5 909.6 L1093.5 907.6 L1095.5 905.5 L1097.5 903.9 L1099.5 903.0 L1101.5 902.2 L1103.5 900.7 L1105.5 899.4 L1107.5 899.3 L1109.5 900.0 L1111.5 900.6 L1113.5 900.6 L1115.5 899.5 L1117.5 897.5 L1119.5 895.5 L1121.5 894.7 L1123.5 894.8 L1125.5 894.5 L1127.5 893.5 L1129.5 892.6 L1131.5 892.0 L1133.5 891.0 L1135.5 889.5 L1137.5 888.4 L1139.5 888.1 L1141.5 888.0 L1143.5 887.4 L1145.5 886.5 L1147.5 885.8 L1149.5 885.1 L1151.5 884.6 L1153.5 884.9 L1155.5 885.7 L1157.5 886.1 L1159.5 886.1 L1161.5 885.5 L1163.5 884.4 L1165.5 883.0 L1167.5 882.1 L1169.5 882.0 L1171.5 881.8 L1173.5 881.2 L1175.5 880.6 L1177.5 879.8 L1179.5 878.5 L1181.5 877.4 L1183.5 876.9 L1185.5 876.4 L1187.5 875.4 L1189.5 874.4 L1191.5 874.1 L1193.5 874.5 L1195.5 874.8 L1197.5 874.3 L1199.5 873.4 L1201.5 872.6 L1203.5 871.8 L1205.5 871.0 L1207.5 870.2 L1209.5 869.6 L1211.5 869.2 L1213.5 868.4 L1215.5 867.0 L1217.5 865.4 L1219.5 864.3 L1221.5 863.9 L1223.5 864.0 L1225.5 864.7 L1227.5 865.1 L1229.5 864.6 L1231.5 863.5 L1233.5 862.9 L1235.5 863.5 L1237.5 864.2 L1239.5 863.9 L1241.5 862.7 L1243.5 861.5 L1245.5 861.1 L1247.5 861.1 L1249.5 861.1 L1251.5 860.0 L1253.5 858.1 L1255.5 856.7 L1257.5 856.3 L1259.5 856.6 L1261.5 856.9 L1263.5 856.9 L1265.5 857.0 L1267.5 857.5 L1269.5 858.2 L1271.5 858.6 L1273.5 858.3 L1275.5 857.3 L1277.5 856.3 L1279.5 855.7 L1281.5 855.4 L1283.5 854.7 L1285.5 853.9 L1287.5 853.7 L1289.5 854.0 L1291.5 853.6 L1293.5 852.8 L1295.5 852.7 L1297.5 853.7 L1299.5 854.8 L1301.5 855.0 L1303.5 854.1 L1305.5 852.6 L1307.5 851.5 L1309.5 851.1 L1311.5 850.8 L1313.5 850.4 L1315.5 850.0 L1317.5 849.3 L1319.5 848.7 L1321.5 848.9 L1323.5 849.8 L1325.5 851.0 L1327.5 851.6 L1329.5 851.7 L1331.5 851.1 L1333.5 849.9 L1335.5 848.7 L1337.5 847.9 L1339.5 848.1 L1341.5 849.0 L1343.5 849.6 L1345.5 849.9 L1347.5 850.1 L1349.5 849.8 L1351.5 849.4 L1353.5 849.0 L1355.5 848.8 L1357.5 848.8 L1359.5 848.9 L1361.5 849.3 L1363.5 849.4 L1365.5 848.9 L1367.5 848.3 L1369.5 847.7 L1371.5 847.0 L1373.5 846.4 L1375.5 846.0 L1377.5 846.2 L1379.5 846.4 L1381.5 846.0 L1383.5 845.8 L1385.5 846.3 L1387.5 847.2 L1389.5 847.6 L1391.5 847.0 L1393.5 846.6 L1395.5 846.9 L1397.5 847.0 L1399.5 846.4 L1401.5 845.3 L1403.5 844.8 L1405.5 844.8 L1407.5 845.2 L1409.5 846.2 L1411.5 846.8 L1413.5 847.0 L1415.5 847.3 L1417.5 847.6 L1419.5 847.2 L1421.5 845.7 L1423.5 844.5 L1425.5 844.3 L1427.5 844.4 L1429.5 844.2 L1431.5 843.7 L1433.5 843.9 L1435.5 844.4 L1437.5 844.6 L1439.5 844.4 L1441.5 844.9 L1443.5 846.2 L1445.5 846.9 L1447.5 846.7 L1449.5 846.1 L1451.5 845.8 L1453.5 845.3 L1455.5 844.1 L1457.5 843.2 L1459.5 844.0 L1461.5 846.0 L1463.5 847.0 L1465.5 846.5 L1467.5 845.4 L1469.5 844.5 L1471.5 844.3 L1473.5 844.6 L1475.5 845.0 L1477.5 845.5 L1479.5 846.1 L1481.5 846.2 L1483.5 845.8 L1485.5 844.7 L1487.5 843.9 L1489.5 843.9 L1491.5 844.0 L1493.5 844.0 L1495.5 843.5 L1497.5 843.2 L1499.5 843.3 L1501.5 844.0 L1503.5 844.8 L1505.5 844.7 L1507.5 843.9 L1509.5 843.3 L1511.5 843.6 L1513.5 844.4 L1515.5 844.8 L1517.5 844.5 L1519.5 844.6 L1521.5 845.0 L1523.5 845.2 L1525.5 844.9 L1527.5 844.5 L1529.5 844.8 L1531.5 845.1 L1533.5 844.8 L1535.5 844.4 L1537.5 844.6 L1539.5 845.0 L1541.5 844.7 L1543.5 843.4 L1545.5 842.0 L1547.5 841.0 L1549.5 841.0 L1551.5 841.7 L1553.5 842.6 L1555.5 843.6 L1557.5 844.4 L1559.5 844.1 L1561.5 842.4 L1563.5 840.9 L1565.5 840.8 L1567.5 841.4 L1569.5 842.0 L1571.5 842.6 L1573.5 843.1 L1575.5 843.4 L1577.5 843.8 L1579.5 844.4 L1581.5 844.4 L1583.5 843.1 L1585.5 841.5 L1587.5 840.8 L1589.5 840.9 L1591.5 841.6 L1593.5 842.1 L1595.5 841.9 L1597.5 841.4 L1599.5 841.1 L1601.5 841.6 L1603.5 842.1 L1605.5 842.7 L1607.5 843.9 L1609.5 845.3 L1611.5 845.5 L1613.5 844.3 L1615.5 842.7 L1617.5 842.1 L1619.5 842.8 L1621.5 843.7 L1623.5 844.1 L1625.5 843.9 L1627.5 844.0 L1629.5 844.8 L1631.5 845.2 L1633.5 844.8 L1635.5 843.7 L1637.5 842.7 L1639.5 842.3 L1641.5 842.5 L1643.5 842.6 L1645.5 843.0 L1647.5 844.0 L1649.5 844.7 L1651.5 844.2 L1653.5 843.2 L1655.5 842.9 L1657.5 843.4 L1659.5 843.9 L1661.5 843.9 L1663.5 843.3 L1665.5 842.9 L1667.5 842.7 L1669.5 842.9 L1671.5 843.4 L1673.5 843.4 L1675.5 842.9 L1677.5 842.3 L1679.5 842.4 L1681.5 843.0 L1683.5 843.7 L1685.5 844.5 L1687.5 845.4 L1689.5 845.8 L1691.5 845.5 L1693.5 845.1 L1695.5 844.8 L1697.5 845.0 L1699.5 845.8 L1701.5 846.7 L1703.5 846.8 L1705.5 845.7 L1707.5 844.5 L1709.5 844.0 L1711.5 843.6 L1713.5 843.2 L1715.5 843.1 L1717.5 843.5 L1719.5 844.4 L1721.5 845.3 L1723.5 845.9 L1725.5 846.1 L1727.5 846.0 L1729.5 845.7 L1731.5 845.2 L1733.5 844.4 L1735.5 843.5 L1737.5 843.1 L1739.5 843.6 L1741.5 844.2 L1743.5 844.4 L1745.5 843.9 L1747.5 843.2 L1749.5 842.5 L1751.5 842.3 L1753.5 843.1 L1755.5 844.6 L1757.5 845.1 L1759.5 844.3 L1761.5 843.5 L1763.5 843.8 L1765.5 844.1 L1767.5 843.7 L1769.5 843.3 L1771.5 843.8 L1773.5 844.3 L1775.5 844.3 L1777.5 843.9 L1779.5 843.4 L1781.5 842.9 L1783.5 843.1 L1785.5 843.7 L1787.5 844.4 L1789.5 844.9 L1791.5 845.6 L1793.5 846.3 L1795.5 846.6 L1797.5 846.2 L1799.5 846.0 L1801.5 846.3 L1803.5 846.4 L1805.5 845.4 L1807.5 843.8 L1809.5 843.0 L1811.5 843.1 L1813.5 843.4 L1815.5 843.5 L1817.5 844.2 L1819.5 845.3 L1821.5 846.3 L1823.5 846.7 L1825.5 846.1 L1827.5 844.7 L1829.5 843.7 L1831.5 843.6 L1833.5 844.6 L1835.5 845.9 L1837.5 846.5 L1839.5 846.0 L1841.5 845.1 L1843.5 845.0 L1845.5 845.5 L1847.5 845.5 L1849.5 844.9 L1851.5 844.8 L1853.5 845.3 L1855.5 845.9 L1857.5 846.0 L1859.5 845.9 L1861.5 846.2 L1863.5 846.0 L1865.5 845.4 L1867.5 844.8 L1869.5 845.1 L1871.5 846.0 L1873.5 846.3 L1875.5 846.3 L1877.5 847.1 L1879.5 848.3 L1881.5 849.2 L1883.5 849.3 L1885.5 848.4 L1887.5 847.0 L1889.5 845.8 L1891.5 845.9 L1893.5 847.0 L1895.5 848.2 L1897.5 849.0 L1899.5 849.6 L1901.5 849.4 L1903.5 848.6 L1905.5 847.6 L1907.5 846.9 L1909.5 847.0 L1911.5 847.6 L1913.5 848.6 L1915.5 849.1 L1917.5 848.7 L1919.5 848.2 L1921.5 848.6 L1923.5 850.1 L1925.5 851.6 L1927.5 852.5 L1929.5 852.1 L1931.5 851.0 L1933.5 849.9 L1935.5 849.3 L1937.5 849.1 L1939.5 849.0 L1941.5 849.2 L1943.5 848.8 L1945.5 848.1 L1947.5 848.3 L1949.5 849.0 L1951.5 849.5 L1953.5 849.4 L1955.5 849.2 L1957.5 848.8 L1959.5 848.6 L1961.5 849.4 L1963.5 850.9 L1965.5 852.0 L1967.5 852.0 L1969.5 851.2 L1971.5 850.8 L1973.5 850.6 L1975.5 850.8 L1977.5 851.0 L1979.5 851.5 L1981.5 851.8 L1983.5 851.3 L1985.5 850.7 L1987.5 850.8 L1989.5 851.4 L1991.5 852.0 L1993.5 852.7 L1995.5 853.6 L1997.5 854.3 L1999.5 854.9 L2001.5 854.9 L2003.5 854.5 L2005.5 854.2 L2007.5 853.9 L2009.5 853.7 L2011.5 853.1 L2013.5 851.9 L2015.5 851.1 L2017.5 851.5 L2019.5 853.0 L2021.5 854.2 L2023.5 854.5 L2025.5 854.5 L2027.5 854.7 L2029.5 854.5 L2031.5 854.3 L2033.5 854.4 L2035.5 854.6 L2037.5 854.8 L2039.5 855.1 L2041.5 855.4 L2043.5 856.0 L2045.5 857.0 L2047.5 858.1 L2049.5 858.6 L2051.5 858.6" stroke="#008000"/>
<path d="M281.5 681.5 L283.5 681.2 L285.5 681.4 L287.5 680.4 L289.5 679.1 L291.5 680.1 L293.5 681.9 L295.5 681.0 L297.5 677.1 L299.5 674.4 L301.5 674.9 L303.5 677.1 L305.5 679.1 L307.5 680.1 L309.5 681.4 L311.5 683.0 L313.5 684.1 L315.5 683.4 L317.5 681.3 L319.5 679.9 L321.5 680.4 L323.5 682.5 L325.5 685.0 L327.5 686.7 L329.5 687.4 L331.5 687.4 L333.5 687.2 L335.5 686.3 L337.5 685.1 L339.5 684.1 L341.5 683.0 L343.5 681.3 L345.5 679.8 L347.5 680.6 L349.5 684.2 L351.5 688.4 L353.5 691.8 L355.5 693.3 L357.5 691.4 L359.5 687.1 L361.5 683.8 L363.5 682.8 L365.5 682.3 L367.5 682.1 L369.5 683.1 L371.5 684.8 L373.5 685.5 L375.5 685.9 L377.5 687.7 L379.5 689.6 L381.5 689.4 L383.5 687.4 L385.5 686.3 L387.5 687.5 L389.5 689.4 L391.5 690.5 L393.5 691.4 L395.5 692.7 L397.5 693.9 L399.5 693.8 L401.5 692.1 L403.5 691.0 L405.5 691.7 L407.5 692.9 L409.5 693.2 L411.5 693.1 L413.5 693.6 L415.5 694.3 L417.5 693.7 L419.5 692.3 L421.5 691.4 L423.5 691.3 L425.5 690.7 L427.5 689.6 L429.5 689.7 L431.5 690.5 L433.5 691.7 L435.5 693.0 L437.5 694.0 L439.5 693.8 L441.5 693.1 L443.5 693.1 L445.5 694.1 L447.5 694.9 L449.5 694.4 L451.5 693.2 L453.5 692.4 L455.5 692.7 L457.5 693.8 L459.5 694.4 L461.5 694.0 L463.5 693.7 L465.5 694.3 L467.5 695.7 L469.5 697.6 L471.5 699.0 L473.5 700.1 L475.5 700.7 L477.5 700.7 L479.5 700.2 L481.5 700.2 L483.5 701.1 L485.5 701.8 L487.5 701.5 L489.5 700.7 L491.5 700.8 L493.5 702.0 L495.5 703.6 L497.5 705.4 L499.5 706.8 L501.5 708.1 L503.5 709.4 L505.5 710.8 L507.5 711.3 L509.5 710.3 L511.5 710.2 L513.5 711.5 L515.5 713.3 L517.5 714.5 L519.5 715.8 L521.5 718.0 L523.5 720.5 L525.5 722.5 L527.5 722.9 L529.5 722.4 L531.5 722.8 L533.5 724.2 L535.5 725.9 L537.5 726.9 L539.5 728.0 L541.5 730.4 L543.5 733.5 L545.5 735.5 L547.5 736.8 L549.5 738.7 L551.5 741.0 L553.5 743.3 L555.5 745.5 L557.5 748.1 L559.5 750.4 L561.5 751.6 L563.5 753.4 L565.5 756.6 L567.5 760.3 L569.5 763.1 L571.5 764.9 L573.5 766.6 L575.5 769.1 L577.5 772.6 L579.5 776.7 L581.5 780.6 L583.5 784.6 L585.5 788.9 L587.5 793.4 L589.5 798.6 L591.5 804.9 L593.5 812.3 L595.5 819.3 L597.5 824.9 L599.5 830.4 L601.5 837.1 L603.5 845.2 L605.5 853.3 L607.5 861.3 L609.5 869.6 L611.5 877.8 L613.5 885.7 L615.5 893.3 L617.5 900.9 L619.5 908.6 L621.5 916.7 L623.5 925.4 L625.5 933.3 L627.5 939.7 L629.5 944.8 L631.5 950.0 L633.5 955.6 L635.5 961.4 L637.5 967.0 L639.5 972.1 L641.5 976.3 L643.5 979.9 L645.5 983.8 L647.5 987.8 L649.5 991.5 L651.5 994.6 L653.5 997.4 L655.5 1000.5 L657.5 1003.9 L659.5 1007.3 L661.5 1010.8 L663.5 1013.7 L665.5 1016.0 L667.5 1018.0 L669.5 1020.7 L671.5 1024.0 L673.5 1027.4 L675.5 1030.4 L677.5 1032.8 L679.5 1035.0 L681.5 1037.5 L683.5 1041.0 L685.5 1045.3 L687.5 1049.7 L689.5 1053.4 L691.5 1056.0 L693.5 1057.7 L695.5 1059.0 L697.5 1060.3 L699.5 1061.1 L701.5 1061.9 L703.5 1063.8 L705.5 1066.9 L707.5 1070.0 L709.5 1072.6 L711.5 1075.6 L713.5 1078.9 L715.5 1081.4 L717.5 1082.8 L719.5 1083.9 L721.5 1085.7 L723.5 1087.9 L725.5 1089.6 L727.5 1090.7 L729.5 1091.6 L731.5 1093.2 L733.5 1095.2 L735.5 1096.9 L737.5 1097.7 L739.5 1098.3 L741.5 1100.0 L743.5 1101.7 L745.5 1102.6 L747.5 1103.5 L749.5 1105.0 L751.5 1106.6 L753.5 1107.3 L755.5 1107.2 L757.5 1107.1 L759.5 1107.3 L761.5 1107.8 L763.5 1108.0 L765.5 1108.0 L767.5 1108.3 L769.5 1109.0 L771.5 1109.7 L773.5 1110.2 L775.5 1109.8 L777.5 1108.8 L779.5 1107.5 L781.5 1106.3 L783.5 1105.8 L785.5 1105.7 L787.5 1105.2 L789.5 1104.1 L791.5 1102.7 L793.5 1101.6 L795.5 1101.2 L797.5 1101.2 L799.5 1101.5 L801.5 1101.5 L803.5 1101.1 L805.5 1100.5 L807.5 1100.3 L809.5 1100.9 L811.5 1100.7 L813.5 1099.7 L815.5 1098.7 L817.5 1098.3 L819.5 1098.4 L821.5 1098.0 L823.5 1096.8 L825.5 1095.1 L827.5 1093.2 L829.5 1091.2 L831.5 1089.6 L833.5 1088.3 L835.5 1086.9 L837.5 1085.1 L839.5 1083.9 L841.5 1083.5 L843.5 1082.6 L845.5 1081.2 L847.5 1079.7 L849.5 1078.5 L851.5 1077.4 L853.5 1075.9 L855.5 1074.1 L857.5 1072.2 L859.5 1071.0 L861.5 1070.0 L863.5 1068.7 L865.5 1067.1 L867.5 1065.4 L869.5 1063.7 L871.5 1062.1 L873.5 1060.3 L875.5 1058.0 L877.5 1055.9 L879.5 1054.5 L881.5 1053.2 L883.5 1051.2 L885.5 1048.7 L887.5 1046.9 L889.5 1045.8 L891.5 1044.8 L893.5 1043.3 L895.5 1041.5 L897.5 1039.9 L899.5 1038.7 L901.5 1037.9 L903.5 1037.1 L905.5 1035.7 L907.5 1033.7 L909.5 1032.1 L911.5 1031.0 L913.5 1029.8 L915.5 1028.7 L917.5 1027.3 L919.5 1025.0 L921.5 1021.9 L923.5 1019.1 L925.5 1017.4 L927.5 1016.3 L929.5 1015.4 L931.5 1014.7 L933.5 1014.1 L935.5 1013.2 L937.5 1011.2 L939.5 1008.4 L941.5 1006.0 L943.5 1004.4 L945.5 1002.9 L947.5 1001.5 L949.5 1000.9 L951.5 1000.6 L953.5 999.3 L955.5 996.6 L957.5 994.1 L959.5 992.8 L961.5 992.3 L963.5 991.8 L965.5 991.2 L967.5 990.7 L969.5 989.9 L971.5 988.4 L973.5 986.5 L975.5 984.6 L977.5 983.4 L979.5 982.4 L981.5 980.9 L983.5 978.6 L985.5 976.2 L987.5 974.6 L989.5 974.0 L991.5 973.2 L993.5 971.8 L995.5 970.8 L997.5 970.2 L999.5 968.9 L1001.5 966.9 L1003.5 965.0 L1005.5 963.8 L1007.5 962.4 L1009.5 960.4 L1011.5 958.7 L1013.5 957.4 L1015.5 956.6 L1017.5 955.2 L1019.5 952.5 L1021.5 949.3 L1023.5 947.2 L1025.5 946.4 L1027.5 946.3 L1029.5 945.9 L1031.5 944.5 L1033.5 942.3 L1035.5 939.9 L1037.5 937.8 L1039.5 936.5 L1041.5 935.4 L1043.5 934.5 L1045.5 933.8 L1047.5 933.2 L1049.5 932.0 L1051.5 930.0 L1053.5 928.0 L1055.5 926.6 L1057.5 925.5 L1059.5 924.1 L1061.5 922.5 L1063.5 921.2 L1065.5 920.4 L1067.5 920.0 L1069.5 919.9 L1071.5 919.6 L1073.5 919.3 L1075.5 918.6 L1077.5 917.1 L1079.5 914.8 L1081.5 912.7 L1083.5 911.5 L1085.5 910.8 L1087.5 910.1 L1089.5 909.6 L1091.5 908.6 L1093.5 907.4 L1095.5 906.5 L1097.5 906.2 L1099.5 905.9 L1101.5 904.8 L1103.5 903.2 L1105.5 902.2 L1107.5 902.0 L1109.5 901.9 L1111.5 901.7 L1113.5 901.3 L1115.5 900.4 L1117.5 899.0 L1119.5 897.3 L1121.5 896.2 L1123.5 895.4 L1125.5 894.6 L1127.5 893.8 L1129.5 892.6 L1131.5 891.5 L1133.5 890.8 L1135.5 890.3 L1137.5 889.9 L1139.5 890.2 L1141.5 891.3 L1143.5 891.9 L1145.5 891.1 L1147.5 889.0 L1149.5 887.1 L1151.5 886.4 L1153.5 886.7 L1155.5 887.2 L1157.5 887.4 L1159.5 887.0 L1161.5 885.7 L1163.5 883.6 L1165.5 881.4 L1167.5 880.0 L1169.5 879.6 L1171.5 879.6 L1173.5 879.4 L1175.5 879.4 L1177.5 879.3 L1179.5 878.2 L1181.5 876.2 L1183.5 874.6 L1185.5 874.7 L1187.5 875.6 L1189.5 876.0 L1191.5 875.3 L1193.5 874.4 L1195.5 874.0 L1197.5 873.9 L1199.5 873.6 L1201.5 873.0 L1203.5 872.0 L1205.5 871.2 L1207.5 870.6 L1209.5 869.8 L1211.5 868.6 L1213.5 867.8 L1215.5 867.5 L1217.5 867.3 L1219.5 866.4 L1221.5 865.2 L1223.5 864.8 L1225.5 865.2 L1227.5 865.6 L1229.5 865.3 L1231.5 864.8 L1233.5 864.3 L1235.5 863.4 L1237.5 862.5 L1239.5 861.9 L1241.5 861.8 L1243.5 861.7 L1245.5 861.1 L1247.5 860.6 L1249.5 860.7 L1251.5 860.5 L1253.5 859.4 L1255.5 858.0 L1257.5 857.4 L1259.5 857.8 L1261.5 858.0 L1263.5 857.8 L1265.5 857.6 L1267.5 857.9 L1269.5 858.5 L1271.5 858.4 L1273.5 857.2 L1275.5 855.9 L1277.5 855.4 L1279.5 855.4 L1281.5 855.3 L1283.5 855.0 L1285.5 855.0 L1287.5 854.7 L1289.5 853.9 L1291.5 853.7 L1293.5 854.8 L1295.5 856.5 L1297.5 857.0 L1299.5 855.6 L1301.5 853.3 L1303.5 851.8 L1305.5 851.5 L1307.5 852.1 L1309.5 853.2 L1311.5 853.9 L1313.5 853.5 L1315.5 851.7 L1317.5 849.8 L1319.5 849.4 L1321.5 849.6 L1323.5 849.4 L1325.5 849.4 L1327.5 850.5 L1329.5 851.7 L1331.5 851.9 L1333.5 851.2 L1335.5 850.1 L1337.5 848.5 L1339.5 847.6 L1341.5 848.6 L1343.5 850.6 L1345.5 851.6 L1347.5 850.6 L1349.5 848.8 L1351.5 847.8 L1353.5 847.8 L1355.5 848.4 L1357.5 849.2 L1359.5 849.7 L1361.5 849.7 L1363.5 849.2 L1365.5 848.8 L1367.5 848.8 L1369.5 848.8 L1371.5 848.7 L1373.5 848.1 L1375.5 847.1 L1377.5 846.7 L1379.5 846.8 L1381.5 846.1 L1383.5 844.8 L1385.5 844.2 L1387.5 844.4 L1389.5 845.0 L1391.5 845.6 L1393.5 846.6 L1395.5 847.5 L1397.5 847.6 L1399.5 847.2 L1401.5 846.7 L1403.5 846.5 L1405.5 846.5 L1407.5 846.7 L1409.5 846.9 L1411.5 846.8 L1413.5 846.3 L1415.5 846.3 L1417.5 846.7 L1419.5 847.1 L1421.5 847.5 L1423.5 847.5 L1425.5 847.1 L1427.5 846.8 L1429.5 846.6 L1431.5 846.1 L1433.5 844.8 L1435.5 843.9 L1437.5 844.3 L1439.5 845.6 L1441.5 847.0 L1443.5 847.3 L1445.5 846.4 L1447.5 845.3 L1449.5 844.7 L1451.5 844.8 L1453.5 845.2 L1455.5 845.2 L1457.5 844.6 L1459.5 844.2 L1461.5 844.7 L1463.5 845.2 L1465.5 845.4 L1467.5 845.7 L1469.5 846.2 L1471.5 846.6 L1473.5 846.2 L1475.5 845.5 L1477.5 845.3 L1479.5 846.1 L1481.5 847.1 L1483.5 847.4 L1485.5 846.6 L1487.5 845.3 L1489.5 844.7 L1491.5 844.9 L1493.5 844.8 L1495.5 844.0 L1497.5 842.9 L1499.5 842.5 L1501.5 843.0 L1503.5 843.8 L1505.5 844.3 L1507.5 844.5 L1509.5 844.6 L1511.5 845.0 L1513.5 845.0 L1515.5 844.8 L1517.5 844.8 L1519.5 844.8 L1521.5 844.4 L1523.5 843.7 L1525.5 843.4 L1527.5 843.5 L1529.5 843.3 L1531.5 842.8 L1533.5 842.9 L1535.5 844.1 L1537.5 845.2 L1539.5 845.1 L1541.5 844.1 L1543.5 842.6 L1545.5 841.4 L1547.5 840.4 L1549.5 840.4 L1551.5 841.7 L1553.5 843.4 L1555.5 844.4 L1557.5 844.1 L1559.5 843.4 L1561.5 842.9 L1563.5 842.7 L1565.5 842.2 L1567.5 841.5 L1569.5 841.0 L1571.5 840.9 L1573.5 841.3 L1575.5 841.8 L1577.5 842.2 L1579.5 842.3 L1581.5 842.8 L1583.5 843.1 L1585.5 842.8 L1587.5 842.4 L1589.5 842.4 L1591.5 842.8 L1593.5 842.5 L1595.5 841.8 L1597.5 841.1 L1599.5 840.6 L1601.5 840.4 L1603.5 840.6 L1605.5 841.2 L1607.5 841.8 L1609.5 842.2 L1611.5 842.0 L1613.5 842.0 L1615.5 842.2 L1617.5 842.7 L1619.5 843.0 L1621.5 842.7 L1623.5 841.5 L1625.5 839.5 L1627.5 838.0 L1629.5 838.7 L1631.5 840.5 L1633.5 841.8 L1635.5 842.0 L1637.5 841.6 L1639.5 841.4 L1641.5 841.6 L1643.5 841.7 L1645.5 841.9 L1647.5 842.7 L1649.5 843.5 L1651.5 844.0 L1653.5 844.7 L1655.5 845.3 L1657.5 845.5 L1659.5 844.5 L1661.5 842.7 L1663.5 840.9 L1665.5 839.7 L1667.5 839.5 L1669.5 840.1 L1671.5 840.3 L1673.5 840.1 L1675.5 840.5 L1677.5 842.0 L1679.5 843.1 L1681.5 842.7 L1683.5 841.7 L1685.5 841.3 L1687.5 841.7 L1689.5 842.2 L1691.5 842.5 L1693.5 842.0 L1695.5 840.9 L1697.5 840.1 L1699.5 840.1 L1701.5 840.5 L1703.5 841.0 L1705.5 841.4 L1707.5 841.8 L1709.5 841.9 L1711.5 841.7 L1713.5 841.9 L1715.5 842.3 L1717.5 841.8 L1719.5 840.6 L1721.5 840.1 L1723.5 840.6 L1725.5 841.6 L1727.5 842.1 L1729.5 842.3 L1731.5 841.9 L1733.5 841.2 L1735.5 840.5 L1737.5 839.9 L1739.5 839.6 L1741.5 839.6 L1743.5 840.3 L1745.5 841.0 L1747.5 841.2 L1749.5 841.3 L1751.5 841.1 L1753.5 841.0 L1755.5 841.2 L1757.5 841.5 L1759.5 841.6 L1761.5 840.8 L1763.5 839.3 L1765.5 838.6 L1767.5 839.4 L1769.5 840.9 L1771.5 841.8 L1773.5 842.3 L1775.5 842.9 L1777.5 842.5 L1779.5 841.2 L1781.5 840.1 L1783.5 840.1 L1785.5 840.3 L1787.5 839.9 L1789.5 839.3 L1791.5 839.5 L1793.5 840.4 L1795.5 841.1 L1797.5 840.7 L1799.5 839.9 L1801.5 839.4 L1803.5 839.6 L1805.5 839.8 L1807.5 839.4 L1809.5 838.7 L1811.5 838.6 L1813.5 839.1 L1815.5 840.2 L1817.5 841.5 L1819.5 842.0 L1821.5 841.8 L1823.5 842.0 L1825.5 842.8 L1827.5 843.1 L1829.5 842.3 L1831.5 841.4 L1833.5 841.0 L1835.5 840.8 L1837.5 840.5 L1839.5 840.2 L1841.5 840.4 L1843.5 841.1 L1845.5 841.6 L1847.5 841.5 L1849.5 841.0 L1851.5 840.8 L1853.5 841.4 L1855.5 842.5 L1857.5 843.4 L1859.5 843.6 L1861.5 843.0 L1863.5 841.8 L1865.5 840.7 L1867.5 840.7 L1869.5 841.6 L1871.5 842.1 L1873.5 842.2 L1875.5 842.4 L1877.5 842.8 L1879.5 843.2 L1881.5 843.2 L1883.5 842.9 L1885.5 842.4 L1887.5 842.3 L1889.5 842.6 L1891.5 843.2 L1893.5 844.0 L1895.5 844.7 L1897.5 845.1 L1899.5 845.3 L1901.5 845.2 L1903.5 844.8 L1905.5 843.7 L1907.5 842.7 L1909.5 841.9 L1911.5 841.8 L1913.5 842.6 L1915.5 844.2 L1917.5 845.8 L1919.5 846.6 L1921.5 846.6 L1923.5 846.3 L1925.5 845.8 L1927.5 845.3 L1929.5 845.4 L1931.5 845.6 L1933.5 846.1 L1935.5 846.7 L1937.5 846.8 L1939.5 846.4 L1941.5 845.6 L1943.5 844.8 L1945.5 844.4 L1947.5 844.2 L1949.5 844.0 L1951.5 843.8 L1953.5 843.7 L1955.5 843.3 L1957.5 842.7 L1959.5 842.7 L1961.5 843.5 L1963.5 844.0 L1965.5 844.0 L1967.5 843.8 L1969.5 843.8 L1971.5 844.5 L1973.5 845.9 L1975.5 847.3 L1977.5 847.8 L1979.5 848.0 L1981.5 848.1 L1983.5 848.0 L1985.5 847.3 L1987.5 846.8 L1989.5 846.7 L1991.5 846.2 L1993.5 846.1 L1995.5 846.6 L1997.5 847.7 L1999.5 848.1 L2001.5 847.5 L2003.5 847.0 L2005.5 847.3 L2007.5 848.5 L2009.5 849.4 L2011.5 849.4 L2013.5 848.6 L2015.5 847.8 L2017.5 847.4 L2019.5 847.6 L2021.5 848.0 L2023.5 848.4 L2025.5 848.8 L2027.5 849.0 L2029.5 849.0 L2031.5 848.9 L2033.5 849.2 L2035.5 849.5 L2037.5 848.9 L2039.5 848.2 L2041.5 848.4 L2043.5 849.7 L2045.5 851.2 L2047.5 852.5 L2049.5 853.1 L2051.5 852.9" stroke="#ff8000"/>
<path d="M281.5 685.0 L283.5 684.9 L285.5 685.8 L287.5 687.0 L289.5 686.1 L291.5 683.1 L293.5 679.4 L295.5 676.0 L297.5 674.5 L299.5 675.2 L301.5 676.7 L303.5 677.8 L305.5 679.4 L307.5 682.2 L309.5 683.4 L311.5 681.6 L313.5 678.9 L315.5 678.8 L317.5 682.0 L319.5 685.6 L321.5 687.0 L323.5 686.1 L325.5 684.4 L327.5 683.5 L329.5 684.0 L331.5 685.1 L333.5 686.5 L335.5 687.9 L337.5 688.0 L339.5 686.7 L341.5 685.4 L343.5 684.9 L345.5 684.1 L347.5 682.5 L349.5 681.9 L351.5 683.9 L353.5 687.1 L355.5 689.4 L357.5 690.5 L359.5 690.1 L361.5 689.6 L363.5 690.3 L365.5 691.7 L367.5 691.9 L369.5 690.0 L371.5 687.3 L373.5 685.7 L375.5 685.3 L377.5 685.3 L379.5 685.5 L381.5 686.5 L383.5 688.1 L385.5 689.0 L387.5 688.7 L389.5 688.5 L391.5 689.9 L393.5 691.0 L395.5 690.1 L397.5 688.6 L399.5 688.1 L401.5 688.9 L403.5 689.8 L405.5 689.7 L407.5 688.7 L409.5 688.1 L411.5 688.4 L413.5 689.2 L415.5 690.0 L417.5 690.6 L419.5 691.1 L421.5 691.1 L423.5 690.3 L425.5 689.6 L427.5 690.0 L429.5 691.9 L431.5 693.8 L433.5 694.7 L435.5 694.9 L437.5 694.9 L439.5 695.2 L441.5 695.3 L443.5 695.4 L445.5 695.7 L447.5 696.0 L449.5 695.9 L451.5 695.0 L453.5 693.6 L455.5 692.7 L457.5 693.3 L459.5 695.3 L461.5 697.1 L463.5 697.6 L465.5 697.0 L467.5 697.0 L469.5 698.4 L471.5 700.0 L473.5 700.4 L475.5 699.7 L477.5 698.6 L479.5 698.3 L481.5 699.5 L483.5 702.2 L485.5 705.3 L487.5 707.5 L489.5 707.7 L491.5 706.3 L493.5 705.1 L495.5 705.1 L497.5 705.1 L499.5 704.9 L501.5 705.8 L503.5 708.2 L505.5 710.1 L507.5 710.3 L509.5 709.9 L511.5 710.3 L513.5 711.6 L515.5 713.4 L517.5 715.6 L519.5 718.2 L521.5 720.2 L523.5 721.5 L525.5 722.5 L527.5 723.2 L529.5 724.0 L531.5 725.0 L533.5 725.4 L535.5 725.5 L537.5 725.9 L539.5 727.4 L541.5 730.0 L543.5 732.7 L545.5 735.5 L547.5 738.0 L549.5 740.2 L551.5 742.7 L553.5 745.9 L555.5 748.9 L557.5 751.0 L559.5 752.4 L561.5 754.2 L563.5 757.1 L565.5 760.5 L567.5 764.4 L569.5 767.5 L571.5 769.1 L573.5 770.2 L575.5 772.7 L577.5 776.4 L579.5 779.9 L581.5 783.1 L583.5 787.1 L585.5 791.9 L587.5 797.2 L589.5 802.9 L591.5 808.7 L593.5 814.5 L595.5 820.6 L597.5 827.6 L599.5 835.0 L601.5 842.1 L603.5 849.0 L605.5 857.1 L607.5 866.1 L609.5 874.1 L611.5 880.8 L613.5 888.2 L615.5 897.4 L617.5 907.5 L619.5 917.0 L621.5 925.2 L623.5 932.5 L625.5 939.6 L627.5 946.2 L629.5 951.5 L631.5 956.5 L633.5 962.5 L635.5 969.0 L637.5 974.5 L639.5 978.8 L641.5 983.2 L643.5 987.7 L645.5 991.3 L647.5 994.8 L649.5 998.8 L651.5 1003.2 L653.5 1007.5 L655.5 1011.1 L657.5 1013.8 L659.5 1016.1 L661.5 1019.3 L663.5 1023.5 L665.5 1027.1 L667.5 1029.2 L669.5 1030.9 L671.5 1033.6 L673.5 1036.9 L675.5 1039.8 L677.5 1042.0 L679.5 1044.6 L681.5 1048.4 L683.5 1052.7 L685.5 1057.1 L687.5 1060.8 L689.5 1063.6 L691.5 1066.0 L693.5 1068.4 L695.5 1070.6 L697.5 1072.2 L699.5 1073.9 L701.5 1076.3 L703.5 1078.6 L705.5 1080.0 L707.5 1081.4 L709.5 1084.0 L711.5 1086.8 L713.5 1089.0 L715.5 1090.8 L717.5 1092.2 L719.5 1092.6 L721.5 1092.7 L723.5 1094.1 L725.5 1096.9 L727.5 1100.2 L729.5 1102.6 L731.5 1103.4 L733.5 1103.6 L735.5 1104.6 L737.5 1106.7 L739.5 1109.1 L741.5 1111.8 L743.5 1114.4 L745.5 1116.6 L747.5 1117.7 L749.5 1117.5 L751.5 1116.7 L753.5 1116.2 L755.5 1116.7 L757.5 1118.3 L759.5 1119.9 L761.5 1120.7 L763.5 1120.4 L765.5 1119.5 L767.5 1119.3 L769.5 1120.0 L771.5 1121.0 L773.5 1121.3 L775.5 1120.4 L777.5 1119.1 L779.5 1117.7 L781.5 1116.8 L783.5 1116.3 L785.5 1115.9 L787.5 1115.3 L789.5 1114.9 L791.5 1115.0 L793.5 1115.1 L795.5 1114.3 L797.5 1112.6 L799.5 1111.1 L801.5 1110.9 L803.5 1111.6 L805.5 1112.0 L807.5 1111.3 L809.5 1110.4 L811.5 1109.8 L813.5 1109.6 L815.5 1109.4 L817.5 1108.6 L819.5 1107.2 L821.5 1105.3 L823.5 1103.8 L825.5 1103.1 L827.5 1102.6 L829.5 1101.7 L831.5 1099.8 L833.5 1097.1 L835.5 1095.0 L837.5 1094.2 L839.5 1093.8 L841.5 1092.4 L843.5 1090.3 L845.5 1087.9 L847.5 1085.0 L849.5 1082.5 L851.5 1081.2 L853.5 1080.9 L855.5 1080.6 L857.5 1080.1 L859.5 1079.4 L861.5 1077.6 L863.5 1074.6 L865.5 1071.8 L867.5 1070.2 L869.5 1069.4 L871.5 1068.6 L873.5 1067.3 L875.5 1065.8 L877.5 1064.2 L879.5 1062.4 L881.5 1060.2 L883.5 1058.1 L885.5 1056.6 L887.5 1055.2 L889.5 1053.7 L891.5 1052.1 L893.5 1050.8 L895.5 1049.3 L897.5 1047.6 L899.5 1045.7 L901.5 1043.6 L903.5 1041.9 L905.5 1040.4 L907.5 1038.6 L909.5 1036.8 L911.5 1035.3 L913.5 1034.3 L915.5 1034.1 L917.5 1033.8 L919.5 1032.9 L921.5 1031.3 L923.5 1029.2 L925.5 1027.2 L927.5 1025.5 L929.5 1023.9 L931.5 1021.8 L933.5 1019.4 L935.5 1017.7 L937.5 1016.5 L939.5 1014.5 L941.5 1011.9 L943.5 1010.2 L945.5 1009.9 L947.5 1009.9 L949.5 1009.2 L951.5 1007.7 L953.5 1005.7 L955.5 1003.1 L957.5 1000.5 L959.5 998.9 L961.5 999.0 L963.5 999.8 L965.5 999.6 L967.5 997.8 L969.5 995.1 L971.5 992.5 L973.5 990.5 L975.5 989.3 L977.5 988.4 L979.5 987.5 L981.5 986.4 L983.5 985.0 L985.5 983.3 L987.5 981.7 L989.5 980.6 L991.5 979.5 L993.5 977.8 L995.5 975.5 L997.5 973.6 L999.5 972.8 L1001.5 972.7 L1003.5 972.2 L1005.5 970.5 L1007.5 968.3 L1009.5 966.3 L1011.5 964.6 L1013.5 962.7 L1015.5 960.4 L1017.5 958.6 L1019.5 957.6 L1021.5 956.6 L1023.5 954.8 L1025.5 952.4 L1027.5 950.4 L1029.5 948.7 L1031.5 946.9 L1033.5 944.9 L1035.5 943.2 L1037.5 942.1 L1039.5 940.7 L1041.5 939.0 L1043.5 937.4 L1045.5 936.5 L1047.5 936.1 L1049.5 935.7 L1051.5 934.4 L1053.5 932.2 L1055.5 929.9 L1057.5 928.3 L1059.5 927.3 L1061.5 926.3 L1063.5 925.5 L1065.5 924.9 L1067.5 924.3 L1069.5 923.7 L1071.5 923.1 L1073.5 922.4 L1075.5 921.4 L1077.5 920.4 L1079.5 919.4 L1081.5 918.9 L1083.5 918.9 L1085.5 918.6 L1087.5 917.2 L1089.5 914.8 L1091.5 912.8 L1093.5 911.3 L1095.5 909.7 L1097.5 908.2 L1099.5 907.0 L1101.5 906.4 L1103.5 906.3 L1105.5 906.5 L1107.5 906.4 L1109.5 905.5 L1111.5 904.6 L1113.5 903.9 L1115.5 903.0 L1117.5 902.0 L1119.5 901.4 L1121.5 900.8 L1123.5 899.9 L1125.5 899.0 L1127.5 898.3 L1129.5 897.4 L1131.5 896.3 L1133.5 895.7 L1135.5 895.9 L1137.5 895.9 L1139.5 895.0 L1141.5 893.8 L1143.5 893.1 L1145.5 892.6 L1147.5 891.6 L1149.5 890.6 L1151.5 890.2 L1153.5 889.8 L1155.5 889.0 L1157.5 888.5 L1159.5 888.7 L1161.5 888.8 L1163.5 887.9 L1165.5 886.6 L1167.5 885.7 L1169.5 884.8 L1171.5 883.8 L1173.5 883.2 L1175.5 883.8 L1177.5 884.7 L1179.5 884.1 L1181.5 882.3 L1183.5 881.0 L1185.5 880.9 L1187.5 881.2 L1189.5 881.1 L1191.5 880.5 L1193.5 880.1 L1195.5 879.6 L1197.5 878.7 L1199.5 877.3 L1201.5 876.3 L1203.5 875.9 L1205.5 876.1 L1207.5 876.1 L1209.5 875.5 L1211.5 874.4 L1213.5 873.2 L1215.5 872.0 L1217.5 871.1 L1219.5 870.3 L1221.5 869.2 L1223.5 868.6 L1225.5 868.8 L1227.5 868.8 L1229.5 868.5 L1231.5 868.0 L1233.5 867.6 L1235.5 867.2 L1237.5 866.7 L1239.5 866.4 L1241.5 866.7 L1243.5 866.9 L1245.5 866.0 L1247.5 864.5 L1249.5 863.9 L1251.5 864.0 L1253.5 863.6 L1255.5 862.8 L1257.5 862.9 L1259.5 863.8 L1261.5 863.8 L1263.5 862.4 L1265.5 861.3 L1267.5 861.6 L1269.5 863.0 L1271.5 863.6 L1273.5 862.7 L1275.5 861.4 L1277.5 860.4 L1279.5 859.7 L1281.5 859.1 L1283.5 858.6 L1285.5 858.4 L1287.5 858.7 L1289.5 858.7 L1291.5 858.6 L1293.5 858.9 L1295.5 859.9 L1297.5 860.1 L1299.5 858.8 L1301.5 857.7 L1303.5 857.3 L1305.5 857.2 L1307.5 857.0 L1309.5 856.7 L1311.5 856.4 L1313.5 856.0 L1315.5 855.7 L1317.5 855.6 L1319.5 855.5 L1321.5 855.4 L1323.5 855.3 L1325.5 855.4 L1327.5 855.4 L1329.5 855.0 L1331.5 854.4 L1333.5 854.4 L1335.5 854.3 L1337.5 853.6 L1339.5 852.7 L1341.5 852.3 L1343.5 852.6 L1345.5 852.8 L1347.5 852.9 L1349.5 853.1 L1351.5 853.7 L1353.5 854.0 L1355.5 853.8 L1357.5 853.2 L1359.5 852.8 L1361.5 853.1 L1363.5 853.5 L1365.5 853.1 L1367.5 852.4 L1369.5 852.0 L1371.5 852.1 L1373.5 851.5 L1375.5 850.3 L1377.5 849.6 L1379.5 849.4 L1381.5 849.6 L1383.5 849.5 L1385.5 849.8 L1387.5 850.4 L1389.5 850.8 L1391.5 850.7 L1393.5 850.3 L1395.5 850.8 L1397.5 851.9 L1399.5 852.2 L1401.5 851.1 L1403.5 849.6 L1405.5 849.1 L1407.5 849.5 L1409.5 850.2 L1411.5 850.4 L1413.5 850.1 L1415.5 849.7 L1417.5 849.6 L1419.5 849.9 L1421.5 850.2 L1423.5 850.3 L1425.5 850.4 L1427.5 850.9 L1429.5 851.3 L1431.5 850.7 L1433.5 849.4 L1435.5 848.5 L1437.5 848.8 L1439.5 849.8 L1441.5 850.6 L1443.5 851.2 L1445.5 851.6 L1447.5 851.4 L1449.5 850.1 L1451.5 848.8 L1453.5 849.0 L1455.5 850.2 L1457.5 851.0 L1459.5 851.2 L1461.5 850.9 L1463.5 850.5 L1465.5 850.4 L1467.5 850.2 L1469.5 850.0 L1471.5 849.9 L1473.5 849.8 L1475.5 849.2 L1477.5 848.7 L1479.5 849.2 L1481.5 850.2 L1483.5 850.9 L1485.5 851.0 L1487.5 850.9 L1489.5 850.3 L1491.5 849.1 L1493.5 848.5 L1495.5 848.3 L1497.5 848.4 L1499.5 848.9 L1501.5 849.5 L1503.5 849.7 L1505.5 849.0 L1507.5 848.3 L1509.5 848.3 L1511.5 848.6 L1513.5 848.6 L1515.5 848.3 L1517.5 848.3 L1519.5 848.4 L1521.5 848.4 L1523.5 848.5 L1525.5 848.6 L1527.5 848.2 L1529.5 847.5 L1531.5 847.1 L1533.5 847.3 L1535.5 847.8 L1537.5 848.1 L1539.5 847.8 L1541.5 846.7 L1543.5 845.7 L1545.5 845.5 L1547.5 846.0 L1549.5 846.8 L1551.5 847.5 L1553.5 848.3 L1555.5 848.9 L1557.5 849.0 L1559.5 848.6 L1561.5 847.3 L1563.5 845.9 L1565.5 845.3 L1567.5 846.0 L1569.5 846.8 L1571.5 846.9 L1573.5 847.1 L1575.5 847.8 L1577.5 848.4 L1579.5 848.1 L1581.5 847.5 L1583.5 847.2 L1585.5 846.8 L1587.5 846.4 L1589.5 846.0 L1591.5 845.8 L1593.5 846.0 L1595.5 846.3 L1597.5 846.5 L1599.5 846.7 L1601.5 846.8 L1603.5 846.6 L1605.5 846.1 L1607.5 845.9 L1609.5 846.4 L1611.5 846.5 L1613.5 846.0 L1615.5 845.4 L1617.5 845.4 L1619.5 846.0 L1621.5 846.6 L1623.5 846.9 L1625.5 846.3 L1627.5 845.5 L1629.5 845.3 L1631.5 845.3 L1633.5 845.0 L1635.5 844.7 L1637.5 845.0 L1639.5 845.6 L1641.5 845.7 L1643.5 845.5 L1645.5 845.9 L1647.5 847.3 L1649.5 848.8 L1651.5 849.2 L1653.5 848.4 L1655.5 847.4 L1657.5 846.8 L1659.5 846.5 L1661.5 846.1 L1663.5 845.3 L1665.5 845.0 L1667.5 844.8 L1669.5 844.2 L1671.5 843.8 L1673.5 844.1 L1675.5 845.2 L1677.5 846.0 L1679.5 846.4 L1681.5 846.4 L1683.5 846.1 L1685.5 846.5 L1687.5 847.5 L1689.5 848.1 L1691.5 847.5 L1693.5 846.2 L1695.5 844.9 L1697.5 843.9 L1699.5 844.1 L1701.5 845.4 L1703.5 846.4 L1705.5 846.4 L1707.5 846.2 L1709.5 846.3 L1711.5 846.3 L1713.5 845.7 L1715.5 845.2 L1717.5 845.2 L1719.5 845.5 L1721.5 845.9 L1723.5 845.8 L1725.5 845.2 L1727.5 844.3 L1729.5 843.9 L1731.5 844.6 L1733.5 845.8 L1735.5 846.1 L1737.5 844.7 L1739.5 842.9 L1741.5 842.1 L1743.5 842.3 L1745.5 842.9 L1747.5 843.5 L1749.5 844.2 L1751.5 844.7 L1753.5 845.2 L1755.5 845.3 L1757.5 845.0 L1759.5 844.5 L1761.5 844.0 L1763.5 843.7 L1765.5 844.0 L1767.5 844.3 L1769.5 844.6 L1771.5 845.0 L1773.5 845.6 L1775.5 846.2 L1777.5 846.2 L1779.5 845.6 L1781.5 845.1 L1783.5 845.4 L1785.5 845.8 L1787.5 845.4 L1789.5 844.8 L1791.5 844.9 L1793.5 845.4 L1795.5 845.8 L1797.5 846.2 L1799.5 846.6 L1801.5 846.4 L1803.5 845.4 L1805.5 843.8 L1807.5 842.5 L1809.5 842.4 L1811.5 843.5 L1813.5 844.3 L1815.5 844.4 L1817.5 844.5 L1819.5 844.7 L1821.5 844.2 L1823.5 843.7 L1825.5 844.0 L1827.5 844.7 L1829.5 845.2 L1831.5 845.1 L1833.5 844.9 L1835.5 844.6 L1837.5 844.3 L1839.5 844.3 L1841.5 844.5 L1843.5 845.1 L1845.5 845.7 L1847.5 846.1 L1849.5 846.5 L1851.5 846.7 L1853.5 846.7 L1855.5 846.6 L1857.5 846.8 L1859.5 846.6 L1861.5 846.1 L1863.5 845.6 L1865.5 845.3 L1867.5 844.7 L1869.5 844.2 L1871.5 844.7 L1873.5 845.7 L1875.5 846.3 L1877.5 846.2 L1879.5 846.1 L1881.5 846.2 L1883.5 846.5 L1885.5 846.9 L1887.5 847.3 L1889.5 847.0 L1891.5 846.4 L1893.5 846.1 L1895.5 846.6 L1897.5 847.8 L1899.5 849.1 L1901.5 849.6 L1903.5 849.5 L1905.5 848.8 L1907.5 848.0 L1909.5 847.6 L1911.5 847.3 L1913.5 847.2 L1915.5 847.7 L1917.5 848.8 L1919.5 850.0 L1921.5 850.2 L1923.5 849.9 L1925.5 850.0 L1927.5 850.8 L1929.5 851.6 L1931.5 851.8 L1933.5 851.1 L1935.5 849.9 L1937.5 849.4 L1939.5 850.0 L1941.5 850.8 L1943.5 850.3 L1945.5 849.3 L1947.5 849.2 L1949.5 849.9 L1951.5 850.1 L1953.5 849.5 L1955.5 848.9 L1957.5 849.1 L1959.5 849.9 L1961.5 850.6 L1963.5 851.2 L1965.5 851.4 L1967.5 851.0 L1969.5 850.3 L1971.5 850.4 L1973.5 851.6 L1975.5 852.8 L1977.5 852.7 L1979.5 851.5 L1981.5 850.9 L1983.5 851.7 L1985.5 852.6 L1987.5 852.9 L1989.5 852.8 L1991.5 852.8 L1993.5 852.9 L1995.5 853.0 L1997.5 853.2 L1999.5 853.5 L2001.5 853.6 L2003.5 853.3 L2005.5 852.8 L2007.5 852.5 L2009.5 853.0 L2011.5 853.5 L2013.5 853.3 L2015.5 852.5 L2017.5 851.7 L2019.5 851.2 L2021.5 851.2 L2023.5 852.2 L2025.5 853.6 L2027.5 854.7 L2029.5 855.1 L2031.5 855.4 L2033.5 855.6 L2035.5 855.2 L2037.5 854.1 L2039.5 853.3 L2041.5 853.7 L2043.5 854.9 L2045.5 855.9 L2047.5 856.2 L2049.5 856.3 L2051.5 856.9" stroke="#8000ff"/>
</g>
<text class="tk" x="237.3" y="1619.0" text-anchor="end">0.0</text>
<text class="tk" x="237.3" y="1355.8" text-anchor="end">0.2</text>
<text class="tk" x="237.3" y="1092.6" text-anchor="end">0.4</text>
<text class="tk" x="237.3" y="829.4" text-anchor="end">0.6</text>
<text class="tk" x="237.3" y="566.2" text-anchor="end">0.8</text>
<text class="tk" x="237.3" y="303.0" text-anchor="end">1.0</text>
<text class="tk" x="281.5" y="1691" text-anchor="middle">1.8</text>
<text class="tk" x="674.8" y="1691" text-anchor="middle">1.9</text>
<text class="tk" x="1068.2" y="1691" text-anchor="middle">2.0</text>
<text class="tk" x="1461.5" y="1691" text-anchor="middle">2.1</text>
<text class="tk" x="1854.8" y="1691" text-anchor="middle">2.2</text>
<text class="ax" x="890" y="1814.5">Wavelength λ<tspan dx="5">, μm</tspan></text>
<text class="ax" transform="translate(77,916) rotate(-90)" text-anchor="middle">Transmittance <tspan class="i">K</tspan></text>
<text class="an" x="658.7" y="511">70 - 100 min, <tspan class="i">L</tspan> = 200 μm</text>
<path d="M1608 105H2166V810H1608Z M1610 107V807H2163V107Z" fill="#000" fill-rule="evenodd" shape-rendering="crispEdges"/>
<path d="M1648.5 188.5 H1788.8" stroke="#000000" stroke-width="7" stroke-linecap="round" fill="none"/>
<text class="lg" x="1804.4" y="209.0">H<tspan font-size="36.5" dy="22">2</tspan><tspan dy="-22">O, 70 min</tspan></text>
<path d="M1648.5 283.1 H1788.8" stroke="#ff0000" stroke-width="7" stroke-linecap="round" fill="none"/>
<text class="lg" x="1804.4" y="303.6">H<tspan font-size="36.5" dy="22">2</tspan><tspan dy="-22">O, 75 min</tspan></text>
<path d="M1648.5 377.8 H1788.8" stroke="#0000ff" stroke-width="7" stroke-linecap="round" fill="none"/>
<text class="lg" x="1804.4" y="398.3">H<tspan font-size="36.5" dy="22">2</tspan><tspan dy="-22">O, 80 min</tspan></text>
<path d="M1648.5 472.4 H1788.8" stroke="#ff00ff" stroke-width="7" stroke-linecap="round" fill="none"/>
<text class="lg" x="1804.4" y="492.9">H<tspan font-size="36.5" dy="22">2</tspan><tspan dy="-22">O, 85 min</tspan></text>
<path d="M1648.5 567.0 H1788.8" stroke="#008000" stroke-width="7" stroke-linecap="round" fill="none"/>
<text class="lg" x="1804.4" y="587.5">H<tspan font-size="36.5" dy="22">2</tspan><tspan dy="-22">O, 90 min</tspan></text>
<path d="M1648.5 661.6 H1788.8" stroke="#ff8000" stroke-width="7" stroke-linecap="round" fill="none"/>
<text class="lg" x="1804.4" y="682.1">H<tspan font-size="36.5" dy="22">2</tspan><tspan dy="-22">O, 95 min</tspan></text>
<path d="M1648.5 756.3 H1788.8" stroke="#8000ff" stroke-width="7" stroke-linecap="round" fill="none"/>
<text class="lg" x="1804.4" y="776.8">H<tspan font-size="36.5" dy="22">2</tspan><tspan dy="-22">O, 100 min</tspan></text>
</svg></body></html>
